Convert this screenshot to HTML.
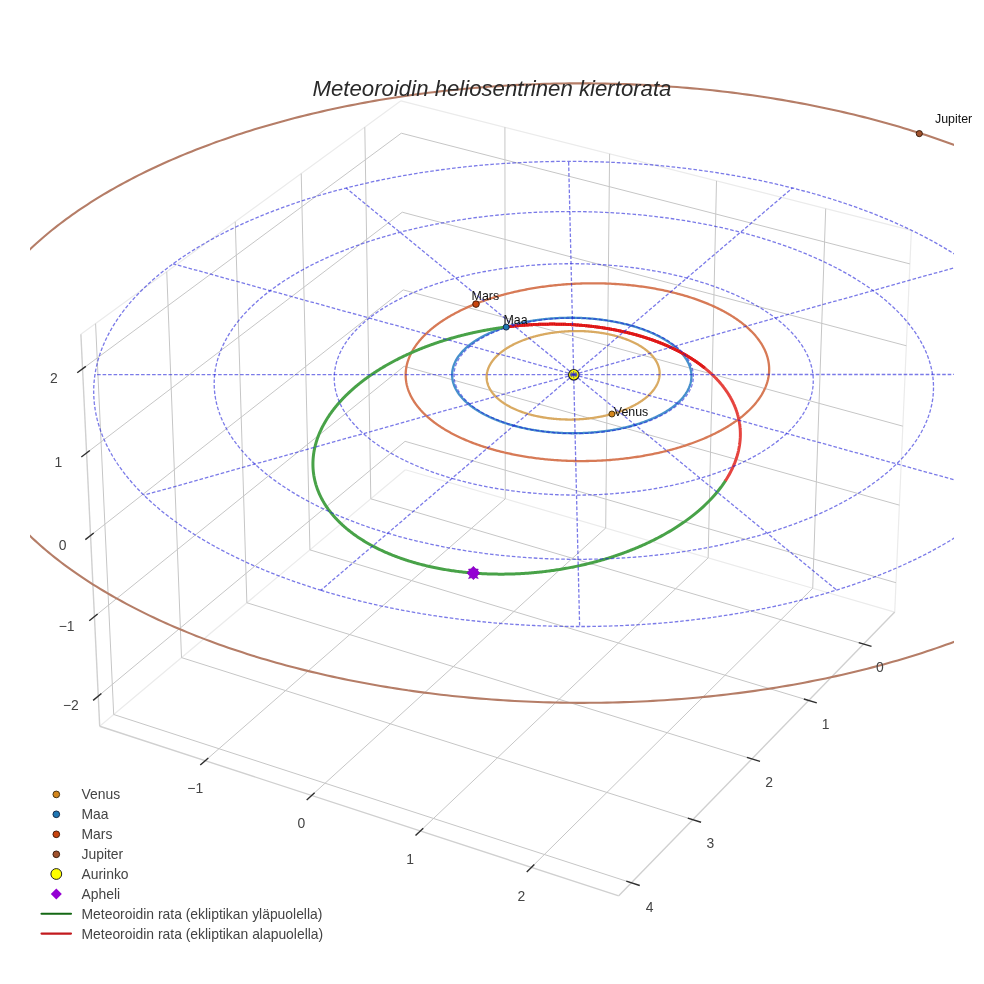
<!DOCTYPE html>
<html><head><meta charset="utf-8"><style>
html,body{margin:0;padding:0;background:#fff;}
body{width:984px;height:984px;overflow:hidden;font-family:"Liberation Sans",sans-serif;}
svg{position:absolute;left:0;top:0;will-change:transform;}
.g{stroke:#c6c6c6;stroke-width:1;fill:none}
.ef{stroke:#ebebeb;stroke-width:1.2;fill:none}
.em{stroke:#d0d0d0;stroke-width:1.4;fill:none}
.tk{stroke:#2e2e2e;stroke-width:1.4;fill:none}
.d{stroke:rgba(25,25,215,0.58);stroke-width:1.3;stroke-dasharray:3.6 1.9;fill:none}
.o{fill:none;stroke-width:2.3;stroke-linejoin:round}
.ven{stroke:#d9aa62}.ear{stroke:#4690cc}.mar{stroke:#d77a56}.jup{stroke:#b57d67;stroke-width:2.1}
.m{fill:none;stroke-width:3;stroke-linejoin:round}
.up{stroke:#48a248}.dn{stroke:#e6443f}
.mdot{fill:none;stroke:#ec1c1c;stroke-width:3;stroke-linejoin:round}
.mdot2{fill:none;stroke:#8a0808;stroke-width:2.4;stroke-dasharray:1 1.3;opacity:.35}
.tl{font-size:13.9px;fill:#444;text-anchor:middle;dominant-baseline:central}
.lg{font-size:13.9px;fill:#444;dominant-baseline:central}
.pl{font-size:12.4px;fill:#111}
</style></head>
<body>
<svg width="984" height="984" viewBox="0 0 984 984">
<defs><clipPath id="sc"><rect x="30" y="0" width="924" height="984"/></clipPath></defs>
<g clip-path="url(#sc)">
<line x1="894.72" y1="612.10" x2="911.38" y2="230.37" class="ef"/>
<line x1="400.92" y1="100.84" x2="911.38" y2="230.37" class="ef"/>
<line x1="400.92" y1="100.84" x2="80.89" y2="334.34" class="ef"/>
<line x1="405.41" y1="469.79" x2="99.71" y2="726.21" class="ef"/>
<line x1="405.41" y1="469.79" x2="894.72" y2="612.10" class="ef"/>
<line x1="370.80" y1="498.82" x2="863.60" y2="644.10" class="g"/>
<line x1="370.80" y1="498.82" x2="364.80" y2="127.19" class="g"/>
<line x1="309.93" y1="549.88" x2="808.78" y2="700.45" class="g"/>
<line x1="309.93" y1="549.88" x2="301.22" y2="173.59" class="g"/>
<line x1="246.87" y1="602.77" x2="751.90" y2="758.93" class="g"/>
<line x1="246.87" y1="602.77" x2="235.25" y2="221.72" class="g"/>
<line x1="181.50" y1="657.61" x2="692.82" y2="819.67" class="g"/>
<line x1="181.50" y1="657.61" x2="166.75" y2="271.70" class="g"/>
<line x1="113.69" y1="714.49" x2="631.42" y2="882.80" class="g"/>
<line x1="113.69" y1="714.49" x2="95.58" y2="323.63" class="g"/>
<line x1="505.26" y1="498.83" x2="205.25" y2="760.70" class="g"/>
<line x1="505.26" y1="498.83" x2="504.91" y2="127.23" class="g"/>
<line x1="605.69" y1="528.04" x2="311.60" y2="795.46" class="g"/>
<line x1="605.69" y1="528.04" x2="609.60" y2="153.80" class="g"/>
<line x1="708.16" y1="557.84" x2="420.30" y2="830.98" class="g"/>
<line x1="708.16" y1="557.84" x2="716.50" y2="180.92" class="g"/>
<line x1="812.72" y1="588.25" x2="531.44" y2="867.30" class="g"/>
<line x1="812.72" y1="588.25" x2="825.69" y2="208.63" class="g"/>
<line x1="405.07" y1="441.34" x2="98.26" y2="696.10" class="g"/>
<line x1="405.07" y1="441.34" x2="896.00" y2="582.72" class="g"/>
<line x1="404.15" y1="366.25" x2="94.44" y2="616.54" class="g"/>
<line x1="404.15" y1="366.25" x2="899.39" y2="505.14" class="g"/>
<line x1="403.22" y1="289.89" x2="90.55" y2="535.50" class="g"/>
<line x1="403.22" y1="289.89" x2="902.83" y2="426.16" class="g"/>
<line x1="402.27" y1="212.21" x2="86.59" y2="452.94" class="g"/>
<line x1="402.27" y1="212.21" x2="906.34" y2="345.77" class="g"/>
<line x1="401.31" y1="133.19" x2="82.55" y2="368.82" class="g"/>
<line x1="401.31" y1="133.19" x2="909.91" y2="263.91" class="g"/>
<line x1="99.71" y1="726.21" x2="80.89" y2="334.34" class="em"/>
<line x1="99.71" y1="726.21" x2="618.74" y2="895.83" class="em"/>
<line x1="894.72" y1="612.10" x2="618.74" y2="895.83" class="em"/>
<polyline points="657.41,363.59 657.24,363.23 657.06,362.86 656.88,362.49 656.69,362.13 656.49,361.76 656.29,361.40 656.08,361.04 655.86,360.68 655.64,360.32 655.41,359.96 655.18,359.60 654.94,359.24 654.69,358.89 654.44,358.53 654.18,358.18 653.92,357.83 653.65,357.48 653.37,357.13 653.09,356.78 652.80,356.44 652.51,356.09 652.21,355.75 651.90,355.41 651.59,355.07 651.28,354.73 650.95,354.39 650.62,354.06 650.29,353.73 649.95,353.39 649.61,353.06 649.25,352.73 648.90,352.41 648.53,352.08 648.17,351.76 647.79,351.44 647.41,351.12 647.03,350.80 646.64,350.48 646.24,350.17 645.84,349.86 645.44,349.55 645.03,349.24 644.61,348.93 644.19,348.63 643.76,348.32 643.33,348.02 642.89,347.72 642.45,347.43 642.00,347.13 641.55,346.84 641.09,346.55 640.63,346.26 640.16,345.98 639.69,345.69 639.21,345.41 638.73,345.13 638.24,344.85 637.75,344.58 637.25,344.31 636.75,344.04 636.24,343.77 635.73,343.50 635.22,343.24 634.70,342.98 634.17,342.72 633.64,342.46 633.11,342.21 632.57,341.96 632.03,341.71 631.49,341.47 630.94,341.22 630.38,340.98 629.82,340.74 629.26,340.51 628.69,340.27 628.12,340.04 627.54,339.81 626.97,339.59 626.38,339.37 625.79,339.15 625.20,338.93 624.61,338.71 624.01,338.50 623.41,338.29 622.80,338.08 622.19,337.88 621.58,337.68 620.96,337.48 620.34,337.28 619.72,337.09 619.09,336.90 618.46,336.71 617.83,336.53 617.19,336.35 616.55,336.17 615.91,335.99 615.26,335.82 614.61,335.65 613.96,335.48 613.30,335.32 612.64,335.16 611.98,335.00 611.32,334.85 610.65,334.69 609.98,334.54 609.31,334.40 608.63,334.25 607.95,334.11 607.27,333.98 606.59,333.84 605.91,333.71 605.22,333.58 604.53,333.46 603.84,333.34 603.14,333.22 602.44,333.10 601.74,332.99 601.04,332.88 600.34,332.77 599.64,332.67 598.93,332.57 598.22,332.47 597.51,332.38 596.79,332.29 596.08,332.20 595.36,332.12 594.65,332.03 593.93,331.96 593.21,331.88 592.48,331.81 591.76,331.74 591.03,331.68 590.31,331.61 589.58,331.56 588.85,331.50 588.12,331.45 587.39,331.40 586.66,331.35 585.92,331.31 585.19,331.27 584.45,331.23 583.72,331.20 582.98,331.17 582.24,331.15 581.50,331.12 580.76,331.10 580.02,331.09 579.28,331.07 578.54,331.06 577.80,331.05 577.06,331.05 576.32,331.05 575.58,331.05 574.83,331.06 574.09,331.07 573.35,331.08 572.60,331.10 571.86,331.12 571.12,331.14 570.38,331.16 569.63,331.19 568.89,331.23 568.15,331.26 567.41,331.30 566.67,331.34 565.93,331.39 565.19,331.43 564.45,331.49 563.71,331.54 562.97,331.60 562.23,331.66 561.49,331.73 560.76,331.79 560.02,331.86 559.29,331.94 558.55,332.02 557.82,332.10 557.09,332.18 556.36,332.27 555.63,332.36 554.90,332.45 554.17,332.55 553.45,332.65 552.73,332.75 552.00,332.86 551.28,332.97 550.56,333.08 549.84,333.19 549.13,333.31 548.41,333.43 547.70,333.56 546.99,333.69 546.28,333.82 545.57,333.95 544.87,334.09 544.17,334.23 543.47,334.37 542.77,334.52 542.07,334.67 541.38,334.82 540.68,334.98 539.99,335.14 539.31,335.30 538.62,335.46 537.94,335.63 537.26,335.80 536.58,335.97 535.91,336.15 535.24,336.33 534.57,336.51 533.90,336.70 533.24,336.88 532.58,337.07 531.92,337.27 531.26,337.46 530.61,337.66 529.96,337.87 529.32,338.07 528.67,338.28 528.04,338.49 527.40,338.70 526.77,338.92 526.14,339.14 525.51,339.36 524.89,339.58 524.27,339.81 523.66,340.04 523.05,340.27 522.44,340.51 521.83,340.75 521.23,340.99 520.64,341.23 520.04,341.48 519.46,341.72 518.87,341.97 518.29,342.23 517.71,342.48 517.14,342.74 516.57,343.00 516.01,343.26 515.45,343.53 514.89,343.80 514.34,344.07 513.79,344.34 513.25,344.62 512.71,344.89 512.18,345.17 511.65,345.45 511.12,345.74 510.60,346.03 510.09,346.31 509.57,346.60 509.07,346.90 508.57,347.19 508.07,347.49 507.58,347.79 507.09,348.09 506.61,348.40 506.13,348.70 505.66,349.01 505.19,349.32 504.73,349.63 504.27,349.95 503.82,350.26 503.37,350.58 502.93,350.90 502.49,351.22 502.06,351.55 501.64,351.87 501.22,352.20 500.80,352.53 500.39,352.86 499.99,353.19 499.59,353.52 499.19,353.86 498.81,354.20 498.42,354.54 498.05,354.88 497.68,355.22 497.31,355.56 496.95,355.91 496.60,356.26 496.25,356.61 495.91,356.96 495.57,357.31 495.24,357.66 494.91,358.01 494.60,358.37 494.28,358.73 493.98,359.09 493.67,359.45 493.38,359.81 493.09,360.17 492.81,360.53 492.53,360.90 492.26,361.26 491.99,361.63 491.74,362.00 491.48,362.37 491.24,362.74 491.00,363.11 490.76,363.48 490.54,363.85 490.31,364.23 490.10,364.60 489.89,364.98 489.69,365.35 489.49,365.73 489.30,366.11 489.12,366.49 488.94,366.87 488.77,367.25 488.61,367.63 488.45,368.01 488.30,368.39 488.16,368.77 488.02,369.16 487.89,369.54 487.76,369.93 487.64,370.31 487.53,370.70 487.42,371.08 487.33,371.47 487.23,371.86 487.15,372.24 487.07,372.63 487.00,373.02 486.93,373.40 486.87,373.79 486.82,374.18 486.77,374.57 486.73,374.96 486.70,375.34 486.67,375.73 486.65,376.12 486.64,376.51 486.64,376.90 486.64,377.29 486.64,377.67 486.66,378.06 486.68,378.45 486.71,378.84 486.74,379.23 486.78,379.61 486.83,380.00 486.88,380.39 486.94,380.77 487.01,381.16 487.08,381.54 487.16,381.93 487.25,382.31 487.35,382.70 487.45,383.08 487.55,383.46 487.67,383.85 487.79,384.23 487.92,384.61 488.05,384.99 488.19,385.37 488.34,385.75 488.49,386.13 488.65,386.50 488.82,386.88 488.99,387.26 489.17,387.63 489.36,388.01 489.55,388.38 489.75,388.75 489.96,389.12 490.17,389.49 490.39,389.86 490.61,390.23 490.85,390.60 491.08,390.96 491.33,391.33 491.58,391.69 491.84,392.05 492.10,392.41 492.37,392.77 492.65,393.13 492.93,393.49 493.22,393.84 493.52,394.20 493.82,394.55 494.13,394.90 494.44,395.25 494.76,395.60 495.09,395.95 495.42,396.29 495.76,396.63 496.10,396.98 496.46,397.32 496.81,397.65 497.18,397.99 497.54,398.33 497.92,398.66 498.30,398.99 498.69,399.32 499.08,399.65 499.48,399.97 499.88,400.30 500.29,400.62 500.71,400.94 501.13,401.26 501.56,401.57 501.99,401.89 502.43,402.20 502.87,402.51 503.32,402.82 503.78,403.12 504.24,403.43 504.70,403.73 505.17,404.03 505.65,404.32 506.13,404.62 506.62,404.91 507.11,405.20 507.61,405.49 508.11,405.77 508.62,406.06 509.13,406.34 509.65,406.62 510.18,406.89 510.70,407.17 511.24,407.44 511.78,407.70 512.32,407.97 512.87,408.23 513.42,408.49 513.98,408.75 514.54,409.01 515.11,409.26 515.68,409.51 516.25,409.76 516.83,410.00 517.42,410.25 518.01,410.48 518.60,410.72 519.20,410.95 519.80,411.19 520.41,411.41 521.02,411.64 521.63,411.86 522.25,412.08 522.87,412.30 523.50,412.51 524.13,412.72 524.77,412.93 525.40,413.14 526.05,413.34 526.69,413.54 527.34,413.73 528.00,413.93 528.65,414.12 529.31,414.30 529.98,414.49 530.64,414.67 531.31,414.84 531.99,415.02 532.66,415.19 533.35,415.36 534.03,415.52 534.72,415.69 535.41,415.84 536.10,416.00 536.79,416.15 537.49,416.30 538.19,416.45 538.90,416.59 539.60,416.73 540.31,416.87 541.03,417.00 541.74,417.13 542.46,417.25 543.18,417.38 543.90,417.50 544.62,417.61 545.35,417.73 546.08,417.84 546.81,417.94 547.54,418.04 548.27,418.14 549.01,418.24 549.75,418.33 550.49,418.42 551.23,418.51 551.98,418.59 552.72,418.67 553.47,418.75 554.22,418.82 554.97,418.89 555.72,418.95 556.47,419.01 557.23,419.07 557.98,419.13 558.74,419.18 559.50,419.23 560.25,419.27 561.01,419.31 561.77,419.35 562.54,419.39 563.30,419.42 564.06,419.44 564.83,419.47 565.59,419.49 566.35,419.51 567.12,419.52 567.89,419.53 568.65,419.53 569.42,419.54 570.19,419.54 570.95,419.53 571.72,419.53 572.49,419.52 573.25,419.50 574.02,419.48 574.79,419.46 575.56,419.44 576.32,419.41 577.09,419.38 577.86,419.34 578.62,419.30 579.39,419.26 580.15,419.21 580.91,419.17 581.68,419.11 582.44,419.06 583.20,419.00 583.96,418.94 584.72,418.87 585.48,418.80 586.24,418.73 587.00,418.65 587.75,418.57 588.51,418.49 589.26,418.40 590.01,418.31 590.76,418.22 591.51,418.12 592.26,418.02 593.01,417.92 593.75,417.81 594.49,417.70 595.24,417.59 595.98,417.47 596.71,417.35 597.45,417.23 598.18,417.10 598.91,416.97 599.64,416.84 600.37,416.70 601.10,416.56 601.82,416.42 602.54,416.27 603.26,416.12 603.97,415.97 604.69,415.82 605.40,415.66 606.11,415.50 606.81,415.33 607.51,415.16 608.21,414.99 608.91,414.82 609.61,414.64 610.30,414.46 610.99,414.28 611.67,414.09 612.35,413.90 613.03,413.71 613.71,413.51 614.38,413.31 615.05,413.11 615.72,412.91 616.38,412.70 617.04,412.49 617.69,412.28 618.35,412.06 619.00,411.85 619.64,411.62 620.28,411.40 620.92,411.17 621.55,410.94 622.18,410.71 622.81,410.48 623.43,410.24 624.05,410.00 624.66,409.76 625.27,409.51 625.88,409.26 626.48,409.01 627.08,408.76 627.67,408.50 628.26,408.24 628.85,407.98 629.43,407.72 630.00,407.45 630.57,407.18 631.14,406.91 631.70,406.64 632.26,406.36 632.81,406.08 633.36,405.80 633.91,405.52 634.44,405.24 634.98,404.95 635.51,404.66 636.03,404.37 636.55,404.07 637.07,403.78 637.58,403.48 638.08,403.18 638.58,402.87 639.07,402.57 639.56,402.26 640.05,401.95 640.52,401.64 641.00,401.33 641.47,401.01 641.93,400.70 642.39,400.38 642.84,400.06 643.28,399.74 643.73,399.41 644.16,399.09 644.59,398.76 645.02,398.43 645.43,398.10 645.85,397.76 646.26,397.43 646.66,397.09 647.05,396.76 647.44,396.42 647.83,396.08 648.21,395.73 648.58,395.39 648.95,395.04 649.31,394.70 649.67,394.35 650.02,394.00 650.36,393.65 650.70,393.29 651.03,392.94 651.36,392.58 651.68,392.23 651.99,391.87 652.30,391.51 652.60,391.15 652.89,390.79 653.18,390.43 653.47,390.06 653.74,389.70 654.02,389.33 654.28,388.97 654.54,388.60 654.79,388.23 655.04,387.86 655.28,387.49 655.51,387.12 655.74,386.75 655.96,386.37 656.17,386.00 656.38,385.63 656.58,385.25 656.78,384.87 656.97,384.50 657.15,384.12 657.33,383.74 657.50,383.36 657.66,382.98 657.82,382.61 657.97,382.23 658.11,381.84 658.25,381.46 658.38,381.08 658.51,380.70 658.63,380.32 658.74,379.94 658.84,379.55 658.94,379.17 659.03,378.79 659.12,378.40 659.20,378.02 659.27,377.64 659.34,377.25 659.40,376.87 659.45,376.48 659.50,376.10 659.54,375.72 659.57,375.33 659.60,374.95 659.62,374.56 659.64,374.18 659.64,373.80 659.64,373.41 659.64,373.03 659.63,372.65 659.61,372.26 659.58,371.88 659.55,371.50 659.52,371.12 659.47,370.74 659.42,370.36 659.36,369.97 659.30,369.59 659.23,369.21 659.15,368.84 659.07,368.46 658.98,368.08 658.89,367.70 658.78,367.32 658.67,366.95 658.56,366.57 658.44,366.20 658.31,365.82 658.18,365.45 658.04,365.08 657.89,364.70 657.74,364.33 657.58,363.96 657.41,363.59" class="o ven"/>
<polyline points="687.22,391.29 687.48,390.81 687.74,390.33 687.99,389.85 688.24,389.37 688.47,388.88 688.69,388.40 688.91,387.91 689.12,387.43 689.31,386.94 689.50,386.45 689.68,385.96 689.86,385.47 690.02,384.98 690.17,384.49 690.32,384.00 690.45,383.51 690.58,383.02 690.70,382.52 690.81,382.03 690.91,381.53 691.01,381.04 691.09,380.55 691.16,380.05 691.23,379.56 691.29,379.06 691.34,378.56 691.37,378.07 691.41,377.57 691.43,377.08 691.44,376.58 691.44,376.09 691.44,375.59 691.43,375.09 691.40,374.60 691.37,374.10 691.33,373.61 691.28,373.11 691.23,372.62 691.16,372.12 691.08,371.63 691.00,371.13 690.91,370.64 690.81,370.15 690.70,369.65 690.58,369.16 690.45,368.67 690.31,368.18 690.17,367.69 690.01,367.20 689.85,366.71 689.68,366.22 689.50,365.73 689.31,365.24 689.12,364.76 688.91,364.27 688.70,363.79 688.47,363.30 688.24,362.82 688.00,362.34 687.75,361.86 687.50,361.38 687.23,360.90 686.96,360.42 686.68,359.94 686.39,359.47 686.09,358.99 685.78,358.52 685.47,358.05 685.14,357.58 684.81,357.11 684.47,356.64 684.12,356.18 683.77,355.71 683.40,355.25 683.03,354.79 682.65,354.33 682.26,353.87 681.86,353.41 681.46,352.96 681.04,352.50 680.62,352.05 680.19,351.60 679.76,351.15 679.31,350.71 678.86,350.26 678.40,349.82 677.93,349.38 677.46,348.94 676.97,348.50 676.48,348.07 675.98,347.64 675.48,347.21 674.96,346.78 674.44,346.35 673.91,345.93 673.38,345.50 672.83,345.08 672.28,344.66 671.73,344.25 671.16,343.84 670.59,343.42 670.01,343.02 669.42,342.61 668.83,342.21 668.23,341.80 667.62,341.40 667.00,341.01 666.38,340.61 665.75,340.22 665.12,339.83 664.48,339.45 663.83,339.06 663.17,338.68 662.51,338.30 661.84,337.93 661.16,337.56 660.48,337.19 659.79,336.82 659.10,336.45 658.40,336.09 657.69,335.73 656.98,335.38 656.26,335.03 655.53,334.68 654.80,334.33 654.06,333.98 653.31,333.64 652.56,333.31 651.81,332.97 651.05,332.64 650.28,332.31 649.51,331.98 648.73,331.66 647.94,331.34 647.15,331.03 646.36,330.71 645.55,330.40 644.75,330.10 643.94,329.80 643.12,329.50 642.30,329.20 641.47,328.91 640.64,328.62 639.80,328.33 638.95,328.05 638.11,327.77 637.25,327.49 636.40,327.22 635.54,326.95 634.67,326.69 633.80,326.42 632.92,326.17 632.04,325.91 631.16,325.66 630.27,325.41 629.37,325.17 628.48,324.93 627.57,324.69 626.67,324.46 625.76,324.23 624.84,324.01 623.93,323.78 623.00,323.57 622.08,323.35 621.15,323.14 620.21,322.94 619.28,322.73 618.34,322.54 617.39,322.34 616.45,322.15 615.50,321.96 614.54,321.78 613.59,321.60 612.63,321.42 611.66,321.25 610.70,321.08 609.73,320.92 608.76,320.76 607.78,320.61 606.80,320.45 605.82,320.31 604.84,320.16 603.86,320.02 602.87,319.89 601.88,319.76 600.89,319.63 599.89,319.51 598.89,319.39 597.90,319.27 596.89,319.16 595.89,319.05 594.89,318.95 593.88,318.85 592.87,318.76 591.86,318.67 590.85,318.58 589.84,318.50 588.82,318.42 587.81,318.35 586.79,318.28 585.77,318.21 584.75,318.15 583.73,318.10 582.71,318.04 581.69,318.00 580.67,317.95 579.64,317.91 578.62,317.88 577.59,317.84 576.57,317.82 575.54,317.79 574.51,317.77 573.49,317.76 572.46,317.75 571.43,317.74 570.40,317.74 569.37,317.74 568.35,317.75 567.32,317.76 566.29,317.78 565.26,317.80 564.24,317.82 563.21,317.85 562.18,317.88 561.16,317.92 560.13,317.96 559.11,318.00 558.09,318.05 557.06,318.11 556.04,318.17 555.02,318.23 554.00,318.29 552.98,318.37 551.97,318.44 550.95,318.52 549.94,318.60 548.92,318.69 547.91,318.78 546.90,318.88 545.89,318.98 544.89,319.08 543.88,319.19 542.88,319.31 541.88,319.42 540.88,319.54 539.89,319.67 538.89,319.80 537.90,319.93 536.91,320.07 535.92,320.21 534.94,320.36 533.96,320.51 532.98,320.67 532.00,320.82 531.03,320.99 530.05,321.15 529.09,321.33 528.12,321.50 527.16,321.68 526.20,321.86 525.24,322.05 524.29,322.24 523.34,322.44 522.40,322.64 521.46,322.84 520.52,323.05 519.58,323.26 518.65,323.47 517.72,323.69 516.80,323.92 515.88,324.14 514.97,324.38 514.06,324.61 513.15,324.85 512.25,325.09 511.35,325.34 510.45,325.59 509.56,325.84 508.68,326.10 507.80,326.36 506.92,326.63 506.05,326.90 505.18,327.17 504.32,327.45 503.47,327.73 502.62,328.01 501.77,328.30 500.93,328.59 500.09,328.88 499.26,329.18 498.43,329.48 497.61,329.79 496.80,330.10 495.99,330.41 495.19,330.73 494.39,331.05 493.60,331.37 492.81,331.70 492.03,332.03 491.26,332.36 490.49,332.70 489.72,333.04 488.97,333.38 488.22,333.73 487.47,334.07 486.73,334.43 486.00,334.78 485.28,335.14 484.56,335.51 483.85,335.87 483.14,336.24 482.44,336.61 481.75,336.99 481.06,337.36 480.38,337.74 479.71,338.13 479.05,338.51 478.39,338.90 477.74,339.30 477.09,339.69 476.46,340.09 475.83,340.49 475.21,340.89 474.59,341.30 473.98,341.71 473.38,342.12 472.79,342.53 472.20,342.95 471.63,343.37 471.05,343.79 470.49,344.22 469.94,344.64 469.39,345.07 468.85,345.51 468.32,345.94 467.79,346.38 467.28,346.82 466.77,347.26 466.27,347.70 465.78,348.15 465.29,348.59 464.82,349.04 464.35,349.50 463.89,349.95 463.44,350.41 463.00,350.87 462.56,351.33 462.14,351.79 461.72,352.25 461.31,352.72 460.91,353.19 460.52,353.66 460.13,354.13 459.76,354.60 459.39,355.08 459.03,355.55 458.69,356.03 458.35,356.51 458.01,356.99 457.69,357.48 457.38,357.96 457.07,358.45 456.78,358.93 456.49,359.42 456.21,359.91 455.94,360.41 455.68,360.90 455.43,361.39 455.19,361.89 454.95,362.38 454.73,362.88 454.51,363.38 454.31,363.88 454.11,364.38 453.92,364.88 453.74,365.38 453.57,365.89 453.41,366.39 453.26,366.89 453.12,367.40 452.99,367.91 452.87,368.41 452.75,368.92 452.65,369.43 452.55,369.94 452.47,370.45 452.39,370.96 452.32,371.47 452.26,371.98 452.22,372.49 452.18,373.00 452.15,373.51 452.13,374.02 452.12,374.53 452.11,375.05 452.12,375.56 452.14,376.07 452.17,376.58 452.20,377.09 452.25,377.61 452.30,378.12 452.37,378.63 452.44,379.14 452.52,379.65 452.62,380.17 452.72,380.68 452.83,381.19 452.95,381.70 453.08,382.21 453.22,382.72 453.37,383.22 453.53,383.73 453.70,384.24 453.87,384.75 454.06,385.25 454.26,385.76 454.46,386.26 454.68,386.77 454.90,387.27 455.13,387.77 455.37,388.28 455.63,388.78 455.89,389.28 456.16,389.77 456.44,390.27 456.72,390.77 457.02,391.26 457.33,391.76 457.64,392.25 457.97,392.74 458.30,393.23 458.64,393.72 459.00,394.21 459.36,394.69 459.73,395.18 460.11,395.66 460.49,396.14 460.89,396.62 461.29,397.10 461.71,397.57 462.13,398.05 462.56,398.52 463.00,398.99 463.45,399.46 463.91,399.93 464.38,400.39 464.85,400.86 465.33,401.32 465.82,401.78 466.32,402.24 466.83,402.69 467.35,403.14 467.88,403.60 468.41,404.04 468.95,404.49 469.50,404.94 470.06,405.38 470.63,405.82 471.20,406.25 471.78,406.69 472.37,407.12 472.97,407.55 473.58,407.98 474.19,408.40 474.81,408.82 475.44,409.24 476.08,409.66 476.73,410.07 477.38,410.49 478.04,410.89 478.71,411.30 479.38,411.70 480.06,412.10 480.75,412.50 481.45,412.89 482.15,413.29 482.87,413.67 483.58,414.06 484.31,414.44 485.04,414.82 485.78,415.20 486.53,415.57 487.28,415.94 488.04,416.30 488.81,416.67 489.58,417.03 490.36,417.38 491.14,417.74 491.94,418.09 492.74,418.43 493.54,418.77 494.35,419.11 495.17,419.45 495.99,419.78 496.82,420.11 497.66,420.44 498.50,420.76 499.35,421.08 500.20,421.39 501.06,421.70 501.92,422.01 502.79,422.31 503.67,422.61 504.55,422.91 505.44,423.20 506.33,423.49 507.22,423.77 508.12,424.05 509.03,424.33 509.94,424.60 510.86,424.87 511.78,425.14 512.71,425.40 513.64,425.65 514.57,425.91 515.51,426.16 516.46,426.40 517.40,426.64 518.36,426.88 519.31,427.11 520.27,427.34 521.24,427.57 522.21,427.79 523.18,428.00 524.16,428.21 525.14,428.42 526.12,428.62 527.11,428.82 528.10,429.02 529.09,429.21 530.09,429.40 531.09,429.58 532.10,429.76 533.10,429.93 534.11,430.10 535.13,430.26 536.14,430.42 537.16,430.58 538.18,430.73 539.21,430.88 540.23,431.02 541.26,431.16 542.29,431.30 543.33,431.43 544.36,431.55 545.40,431.67 546.44,431.79 547.48,431.90 548.52,432.01 549.57,432.11 550.61,432.21 551.66,432.30 552.71,432.39 553.76,432.48 554.81,432.56 555.87,432.63 556.92,432.70 557.98,432.77 559.03,432.83 560.09,432.89 561.15,432.95 562.21,432.99 563.27,433.04 564.33,433.08 565.39,433.11 566.45,433.14 567.51,433.17 568.57,433.19 569.63,433.21 570.70,433.22 571.76,433.23 572.82,433.23 573.88,433.23 574.94,433.22 576.00,433.21 577.06,433.20 578.12,433.18 579.18,433.16 580.24,433.13 581.29,433.09 582.35,433.06 583.40,433.01 584.46,432.97 585.51,432.92 586.56,432.86 587.61,432.80 588.66,432.74 589.71,432.67 590.76,432.59 591.80,432.52 592.84,432.43 593.88,432.35 594.92,432.26 595.96,432.16 596.99,432.06 598.03,431.96 599.06,431.85 600.09,431.73 601.11,431.62 602.13,431.50 603.16,431.37 604.17,431.24 605.19,431.10 606.20,430.96 607.21,430.82 608.22,430.67 609.22,430.52 610.22,430.36 611.22,430.20 612.22,430.04 613.21,429.87 614.19,429.70 615.18,429.52 616.16,429.34 617.14,429.15 618.11,428.96 619.08,428.77 620.04,428.57 621.01,428.37 621.96,428.16 622.92,427.95 623.87,427.74 624.81,427.52 625.75,427.30 626.69,427.07 627.62,426.84 628.55,426.61 629.47,426.37 630.39,426.13 631.31,425.88 632.22,425.63 633.12,425.38 634.02,425.12 634.91,424.86 635.80,424.60 636.69,424.33 637.57,424.06 638.44,423.78 639.31,423.50 640.17,423.22 641.03,422.93 641.88,422.64 642.73,422.35 643.57,422.05 644.41,421.75 645.24,421.45 646.06,421.14 646.88,420.83 647.69,420.51 648.50,420.19 649.30,419.87 650.09,419.55 650.88,419.22 651.66,418.89 652.44,418.55 653.21,418.22 653.97,417.88 654.73,417.53 655.48,417.18 656.22,416.83 656.96,416.48 657.69,416.12 658.41,415.76 659.13,415.40 659.84,415.04 660.54,414.67 661.24,414.30 661.93,413.92 662.61,413.55 663.29,413.17 663.96,412.78 664.62,412.40 665.27,412.01 665.92,411.62 666.56,411.22 667.19,410.83 667.81,410.43 668.43,410.03 669.04,409.62 669.64,409.22 670.24,408.81 670.83,408.40 671.41,407.98 671.98,407.57 672.54,407.15 673.10,406.73 673.65,406.31 674.19,405.88 674.73,405.45 675.25,405.02 675.77,404.59 676.28,404.16 676.78,403.72 677.27,403.28 677.76,402.84 678.24,402.40 678.71,401.96 679.17,401.51 679.62,401.07 680.07,400.62 680.51,400.16 680.93,399.71 681.35,399.26 681.77,398.80 682.17,398.34 682.57,397.88 682.95,397.42 683.33,396.96 683.70,396.49 684.06,396.03 684.42,395.56 684.76,395.09 685.10,394.62 685.43,394.15 685.75,393.68 686.06,393.20 686.36,392.73 686.65,392.25 686.94,391.77 687.22,391.29" class="o ear"/>
<polyline points="438.96,425.73 439.82,426.30 440.68,426.87 441.55,427.43 442.44,427.99 443.33,428.55 444.23,429.11 445.14,429.66 446.06,430.21 446.99,430.75 447.93,431.29 448.88,431.83 449.84,432.36 450.81,432.89 451.79,433.41 452.78,433.93 453.77,434.45 454.78,434.96 455.79,435.47 456.81,435.98 457.85,436.48 458.89,436.98 459.94,437.47 461.00,437.96 462.06,438.44 463.14,438.92 464.22,439.40 465.32,439.87 466.42,440.34 467.53,440.80 468.65,441.26 469.78,441.71 470.91,442.16 472.05,442.61 473.21,443.05 474.36,443.48 475.53,443.92 476.71,444.34 477.89,444.76 479.08,445.18 480.28,445.59 481.49,446.00 482.70,446.41 483.92,446.80 485.15,447.20 486.39,447.59 487.63,447.97 488.88,448.35 490.14,448.72 491.41,449.09 492.68,449.46 493.96,449.81 495.25,450.17 496.54,450.52 497.84,450.86 499.15,451.20 500.46,451.53 501.78,451.86 503.11,452.18 504.44,452.50 505.78,452.81 507.12,453.12 508.48,453.42 509.83,453.71 511.20,454.00 512.57,454.29 513.94,454.57 515.32,454.84 516.71,455.11 518.10,455.37 519.50,455.63 520.91,455.88 522.31,456.12 523.73,456.36 525.15,456.60 526.57,456.83 528.00,457.05 529.44,457.27 530.87,457.48 532.32,457.68 533.77,457.88 535.22,458.08 536.68,458.27 538.14,458.45 539.61,458.62 541.08,458.79 542.55,458.96 544.03,459.11 545.51,459.27 547.00,459.41 548.49,459.55 549.98,459.69 551.48,459.81 552.98,459.94 554.48,460.05 555.99,460.16 557.50,460.26 559.02,460.36 560.53,460.45 562.05,460.54 563.57,460.61 565.10,460.69 566.63,460.75 568.16,460.81 569.69,460.86 571.22,460.91 572.76,460.95 574.30,460.98 575.84,461.01 577.38,461.03 578.93,461.05 580.47,461.06 582.02,461.06 583.57,461.05 585.12,461.04 586.67,461.02 588.22,461.00 589.77,460.97 591.33,460.93 592.88,460.89 594.44,460.84 595.99,460.78 597.55,460.72 599.11,460.65 600.66,460.57 602.22,460.49 603.78,460.40 605.34,460.30 606.89,460.20 608.45,460.09 610.00,459.98 611.56,459.85 613.11,459.72 614.67,459.59 616.22,459.45 617.77,459.30 619.32,459.14 620.87,458.98 622.42,458.81 623.96,458.63 625.51,458.45 627.05,458.26 628.59,458.07 630.13,457.87 631.66,457.66 633.20,457.44 634.73,457.22 636.26,456.99 637.78,456.76 639.31,456.51 640.83,456.27 642.35,456.01 643.86,455.75 645.37,455.48 646.88,455.21 648.38,454.93 649.88,454.64 651.38,454.34 652.87,454.04 654.36,453.73 655.85,453.42 657.33,453.10 658.80,452.77 660.28,452.44 661.74,452.10 663.20,451.75 664.66,451.40 666.11,451.04 667.56,450.67 669.00,450.30 670.44,449.92 671.87,449.54 673.29,449.15 674.71,448.75 676.13,448.34 677.53,447.93 678.93,447.52 680.33,447.09 681.72,446.66 683.10,446.23 684.47,445.79 685.84,445.34 687.20,444.89 688.56,444.43 689.91,443.96 691.25,443.49 692.58,443.01 693.90,442.53 695.22,442.04 696.53,441.54 697.83,441.04 699.12,440.53 700.41,440.02 701.69,439.50 702.95,438.97 704.21,438.44 705.46,437.90 706.71,437.36 707.94,436.81 709.16,436.26 710.38,435.70 711.59,435.13 712.78,434.56 713.97,433.99 715.15,433.41 716.31,432.82 717.47,432.23 718.62,431.63 719.76,431.03 720.88,430.42 722.00,429.81 723.11,429.19 724.20,428.56 725.29,427.94 726.36,427.30 727.42,426.66 728.48,426.02 729.52,425.37 730.55,424.72 731.57,424.06 732.57,423.40 733.57,422.73 734.55,422.06 735.52,421.38 736.48,420.70 737.43,420.02 738.37,419.33 739.29,418.63 740.20,417.93 741.10,417.23 741.99,416.53 742.86,415.81 743.72,415.10 744.57,414.38 745.41,413.66 746.23,412.93 747.04,412.20 747.83,411.46 748.61,410.73 749.38,409.98 750.14,409.24 750.88,408.49 751.61,407.74 752.32,406.98 753.03,406.22 753.71,405.46 754.39,404.69 755.04,403.92 755.69,403.15 756.32,402.38 756.94,401.60 757.54,400.82 758.13,400.04 758.70,399.25 759.26,398.46 759.80,397.67 760.33,396.87 760.84,396.08 761.34,395.28 761.83,394.48 762.30,393.67 762.75,392.87 763.19,392.06 763.61,391.25 764.02,390.44 764.42,389.62 764.79,388.81 765.16,387.99 765.50,387.17 765.84,386.35 766.15,385.53 766.45,384.70 766.74,383.88 767.01,383.05 767.26,382.23 767.50,381.40 767.72,380.57 767.93,379.74 768.12,378.90 768.29,378.07 768.45,377.24 768.60,376.41 768.72,375.57 768.83,374.74 768.93,373.90 769.01,373.06 769.07,372.23 769.12,371.39 769.15,370.56 769.16,369.72 769.16,368.88 769.14,368.05 769.11,367.21 769.06,366.37 768.99,365.54 768.91,364.70 768.81,363.87 768.70,363.04 768.57,362.20 768.42,361.37 768.26,360.54 768.08,359.71 767.88,358.88 767.67,358.05 767.45,357.22 767.20,356.40 766.94,355.57 766.67,354.75 766.38,353.93 766.07,353.10 765.75,352.29 765.41,351.47 765.05,350.65 764.68,349.84 764.29,349.03 763.89,348.22 763.47,347.41 763.04,346.61 762.59,345.80 762.12,345.00 761.64,344.20 761.14,343.41 760.63,342.61 760.10,341.82 759.56,341.04 759.00,340.25 758.43,339.47 757.84,338.69 757.23,337.91 756.62,337.14 755.98,336.37 755.33,335.60 754.67,334.84 753.99,334.08 753.29,333.32 752.58,332.57 751.86,331.82 751.12,331.07 750.37,330.33 749.60,329.59 748.82,328.86 748.02,328.13 747.21,327.40 746.39,326.68 745.55,325.96 744.70,325.25 743.83,324.54 742.95,323.83 742.06,323.13 741.15,322.43 740.23,321.74 739.30,321.06 738.35,320.37 737.39,319.69 736.42,319.02 735.43,318.35 734.43,317.69 733.42,317.03 732.39,316.38 731.35,315.73 730.30,315.09 729.24,314.45 728.17,313.82 727.08,313.19 725.98,312.57 724.87,311.95 723.75,311.34 722.61,310.73 721.47,310.13 720.31,309.54 719.14,308.95 717.96,308.37 716.77,307.79 715.56,307.22 714.35,306.65 713.13,306.09 711.89,305.54 710.65,304.99 709.39,304.45 708.13,303.92 706.85,303.39 705.56,302.86 704.27,302.35 702.96,301.84 701.65,301.33 700.32,300.83 698.99,300.34 697.65,299.86 696.29,299.38 694.93,298.91 693.56,298.44 692.18,297.98 690.80,297.53 689.40,297.09 688.00,296.65 686.59,296.22 685.17,295.79 683.74,295.37 682.30,294.96 680.86,294.56 679.41,294.16 677.96,293.77 676.49,293.38 675.02,293.00 673.54,292.63 672.06,292.27 670.57,291.91 669.07,291.57 667.56,291.22 666.05,290.89 664.54,290.56 663.02,290.24 661.49,289.93 659.96,289.62 658.42,289.32 656.87,289.03 655.33,288.74 653.77,288.46 652.21,288.19 650.65,287.93 649.08,287.67 647.51,287.43 645.94,287.18 644.36,286.95 642.77,286.72 641.19,286.50 639.59,286.29 638.00,286.09 636.40,285.89 634.80,285.70 633.20,285.51 631.59,285.34 629.98,285.17 628.37,285.01 626.75,284.85 625.14,284.71 623.52,284.57 621.90,284.44 620.27,284.31 618.65,284.20 617.02,284.09 615.40,283.98 613.77,283.89 612.14,283.80 610.50,283.72 608.87,283.65 607.24,283.58 605.61,283.52 603.97,283.47 602.34,283.43 600.70,283.39 599.07,283.36 597.44,283.34 595.80,283.32 594.17,283.31 592.54,283.31 590.90,283.32 589.27,283.33 587.64,283.35 586.01,283.38 584.38,283.41 582.76,283.46 581.13,283.51 579.51,283.56 577.88,283.62 576.26,283.69 574.65,283.77 573.03,283.86 571.41,283.95 569.80,284.05 568.19,284.15 566.59,284.26 564.98,284.38 563.38,284.51 561.78,284.64 560.19,284.78 558.60,284.92 557.01,285.08 555.42,285.24 553.84,285.40 552.27,285.57 550.69,285.75 549.12,285.94 547.56,286.13 545.99,286.33 544.44,286.54 542.88,286.75 541.34,286.97 539.79,287.19 538.25,287.42 536.72,287.66 535.19,287.91 533.67,288.16 532.15,288.41 530.63,288.68 529.13,288.95 527.62,289.22 526.13,289.50 524.63,289.79 523.15,290.08 521.67,290.38 520.20,290.69 518.73,291.00 517.27,291.32 515.81,291.64 514.36,291.97 512.92,292.31 511.49,292.65 510.06,293.00 508.64,293.35 507.22,293.71 505.81,294.07 504.41,294.44 503.02,294.81 501.63,295.19 500.25,295.58 498.88,295.97 497.52,296.37 496.16,296.77 494.81,297.18 493.47,297.59 492.13,298.01 490.81,298.43 489.49,298.86 488.18,299.29 486.88,299.73 485.59,300.17 484.30,300.62 483.03,301.08 481.76,301.53 480.50,302.00 479.25,302.47 478.01,302.94 476.77,303.42 475.55,303.90 474.33,304.38 473.13,304.88 471.93,305.37 470.74,305.87 469.56,306.38 468.39,306.89 467.23,307.40 466.08,307.92 464.94,308.44 463.81,308.97 462.68,309.50 461.57,310.03 460.47,310.57 459.37,311.11 458.29,311.66 457.22,312.21 456.15,312.77 455.10,313.32 454.05,313.89 453.02,314.45 452.00,315.02 450.98,315.60 449.98,316.17 448.99,316.76 448.00,317.34 447.03,317.93 446.07,318.52 445.12,319.12 444.18,319.71 443.25,320.32 442.33,320.92 441.42,321.53 440.52,322.14 439.63,322.75 438.75,323.37 437.89,323.99 437.03,324.62 436.19,325.24 435.35,325.87 434.53,326.50 433.72,327.14 432.92,327.78 432.13,328.42 431.35,329.06 430.58,329.71 429.83,330.36 429.08,331.01 428.35,331.66 427.63,332.32 426.91,332.98 426.21,333.64 425.53,334.30 424.85,334.96 424.18,335.63 423.53,336.30 422.89,336.97 422.26,337.65 421.64,338.32 421.03,339.00 420.43,339.68 419.85,340.36 419.27,341.05 418.71,341.73 418.16,342.42 417.62,343.11 417.10,343.80 416.58,344.49 416.08,345.18 415.59,345.88 415.11,346.58 414.64,347.28 414.18,347.97 413.74,348.68 413.30,349.38 412.88,350.08 412.47,350.79 412.08,351.49 411.69,352.20 411.32,352.91 410.96,353.62 410.61,354.33 410.27,355.04 409.94,355.75 409.63,356.46 409.33,357.17 409.04,357.89 408.76,358.60 408.49,359.32 408.24,360.03 408.00,360.75 407.77,361.47 407.55,362.19 407.34,362.90 407.15,363.62 406.96,364.34 406.79,365.06 406.63,365.78 406.49,366.50 406.35,367.22 406.23,367.94 406.12,368.66 406.02,369.38 405.93,370.10 405.86,370.82 405.80,371.54 405.74,372.26 405.71,372.98 405.68,373.70 405.66,374.42 405.66,375.14 405.67,375.86 405.69,376.58 405.72,377.29 405.76,378.01 405.82,378.73 405.89,379.44 405.97,380.16 406.06,380.87 406.16,381.59 406.28,382.30 406.40,383.02 406.54,383.73 406.69,384.44 406.86,385.15 407.03,385.86 407.22,386.57 407.41,387.27 407.62,387.98 407.84,388.69 408.08,389.39 408.32,390.09 408.58,390.79 408.84,391.49 409.12,392.19 409.41,392.89 409.71,393.59 410.03,394.28 410.35,394.97 410.69,395.67 411.04,396.36 411.40,397.04 411.77,397.73 412.15,398.42 412.54,399.10 412.95,399.78 413.37,400.46 413.79,401.14 414.23,401.82 414.68,402.49 415.14,403.16 415.62,403.83 416.10,404.50 416.60,405.17 417.10,405.83 417.62,406.49 418.15,407.15 418.69,407.81 419.24,408.47 419.80,409.12 420.37,409.77 420.95,410.42 421.55,411.06 422.15,411.71 422.77,412.35 423.39,412.99 424.03,413.62 424.68,414.25 425.33,414.88 426.00,415.51 426.68,416.14 427.37,416.76 428.07,417.38 428.78,417.99 429.51,418.61 430.24,419.22 430.98,419.82 431.73,420.43 432.50,421.03 433.27,421.63 434.05,422.22 434.85,422.82 435.65,423.40 436.46,423.99 437.29,424.57 438.12,425.15 438.96,425.73" class="o mar"/>
<polyline points="407.75,690.30 413.26,691.09 418.79,691.86 424.34,692.60 429.90,693.31 435.48,694.00 441.07,694.67 446.67,695.31 452.28,695.92 457.91,696.51 463.55,697.07 469.20,697.61 474.86,698.12 480.54,698.60 486.22,699.06 491.91,699.49 497.61,699.90 503.32,700.28 509.03,700.63 514.76,700.96 520.49,701.26 526.22,701.54 531.97,701.79 537.71,702.01 543.46,702.21 549.22,702.38 554.98,702.52 560.74,702.64 566.51,702.73 572.28,702.79 578.05,702.83 583.82,702.84 589.59,702.82 595.36,702.78 601.13,702.71 606.90,702.61 612.67,702.49 618.43,702.34 624.19,702.17 629.95,701.96 635.71,701.74 641.46,701.48 647.21,701.20 652.95,700.89 658.69,700.55 664.42,700.19 670.14,699.80 675.86,699.39 681.56,698.95 687.26,698.48 692.95,697.99 698.64,697.47 704.31,696.92 709.97,696.35 715.62,695.75 721.26,695.13 726.88,694.48 732.50,693.80 738.10,693.10 743.69,692.37 749.26,691.62 754.82,690.84 760.36,690.03 765.89,689.20 771.40,688.35 776.90,687.47 782.38,686.56 787.84,685.63 793.28,684.67 798.71,683.69 804.11,682.68 809.50,681.65 814.86,680.59 820.21,679.51 825.53,678.41 830.84,677.28 836.12,676.12 841.38,674.94 846.61,673.74 851.83,672.51 857.01,671.26 862.18,669.99 867.32,668.69 872.43,667.37 877.52,666.03 882.59,664.66 887.62,663.27 892.63,661.86 897.62,660.42 902.57,658.96 907.50,657.48 912.39,655.97 917.26,654.45 922.10,652.90 926.91,651.33 931.69,649.74 936.44,648.12 941.15,646.49 945.84,644.83 950.49,643.15 955.11,641.46 959.70,639.74 964.25,638.00 968.77,636.24 973.26,634.46 977.71,632.66 982.13,630.84 986.52,628.99 990.86,627.13 995.17,625.26 999.45,623.36 1003.69,621.44 1007.89,619.50 1012.06,617.55 1016.18,615.57 1020.27,613.58 1024.32,611.57 1028.34,609.54 1032.31,607.50 1036.24,605.44 1040.14,603.36 1044.00,601.26 1047.81,599.14 1051.58,597.01 1055.32,594.87 1059.01,592.70 1062.66,590.52 1066.27,588.33 1069.84,586.11 1073.37,583.89 1076.85,581.65 1080.29,579.39 1083.69,577.12 1087.05,574.83 1090.36,572.53 1093.63,570.21 1096.85,567.88 1100.03,565.54 1103.17,563.19 1106.26,560.82 1109.30,558.43 1112.30,556.04 1115.26,553.63 1118.17,551.21 1121.04,548.78 1123.85,546.33 1126.63,543.87 1129.35,541.41 1132.03,538.93 1134.67,536.44 1137.26,533.94 1139.80,531.42 1142.29,528.90 1144.74,526.37 1147.13,523.83 1149.49,521.28 1151.79,518.72 1154.05,516.15 1156.25,513.57 1158.41,510.98 1160.53,508.38 1162.59,505.78 1164.60,503.16 1166.57,500.54 1168.49,497.91 1170.36,495.28 1172.18,492.64 1173.95,489.99 1175.67,487.33 1177.35,484.67 1178.97,482.00 1180.55,479.32 1182.07,476.64 1183.55,473.96 1184.98,471.26 1186.36,468.57 1187.69,465.87 1188.97,463.16 1190.20,460.45 1191.38,457.74 1192.51,455.02 1193.59,452.30 1194.62,449.57 1195.60,446.84 1196.54,444.11 1197.42,441.38 1198.25,438.64 1199.04,435.90 1199.77,433.16 1200.46,430.42 1201.09,427.67 1201.68,424.93 1202.21,422.18 1202.70,419.43 1203.14,416.68 1203.52,413.94 1203.86,411.19 1204.15,408.44 1204.39,405.69 1204.58,402.94 1204.72,400.19 1204.81,397.45 1204.86,394.70 1204.85,391.95 1204.80,389.21 1204.69,386.47 1204.54,383.73 1204.34,380.99 1204.09,378.26 1203.80,375.53 1203.45,372.80 1203.06,370.07 1202.61,367.35 1202.12,364.63 1201.59,361.91 1201.00,359.20 1200.37,356.49 1199.69,353.79 1198.96,351.09 1198.18,348.39 1197.36,345.70 1196.49,343.02 1195.57,340.34 1194.61,337.67 1193.60,335.00 1192.55,332.34 1191.44,329.68 1190.30,327.03 1189.10,324.39 1187.86,321.75 1186.58,319.12 1185.25,316.50 1183.87,313.88 1182.45,311.27 1180.98,308.67 1179.47,306.08 1177.92,303.50 1176.32,300.92 1174.68,298.35 1172.99,295.79 1171.26,293.24 1169.48,290.70 1167.66,288.16 1165.80,285.64 1163.90,283.13 1161.95,280.62 1159.96,278.13 1157.93,275.64 1155.86,273.17 1153.74,270.70 1151.59,268.25 1149.39,265.80 1147.15,263.37 1144.87,260.95 1142.55,258.54 1140.19,256.14 1137.79,253.75 1135.35,251.37 1132.87,249.01 1130.34,246.66 1127.78,244.31 1125.19,241.99 1122.55,239.67 1119.87,237.37 1117.16,235.07 1114.41,232.80 1111.62,230.53 1108.79,228.28 1105.93,226.04 1103.02,223.81 1100.09,221.60 1097.11,219.40 1094.10,217.22 1091.05,215.04 1087.97,212.89 1084.85,210.74 1081.70,208.62 1078.52,206.50 1075.29,204.40 1072.04,202.32 1068.75,200.25 1065.42,198.19 1062.07,196.15 1058.68,194.13 1055.26,192.12 1051.80,190.13 1048.31,188.15 1044.79,186.18 1041.24,184.24 1037.66,182.31 1034.05,180.39 1030.40,178.49 1026.73,176.61 1023.02,174.74 1019.29,172.89 1015.53,171.06 1011.73,169.24 1007.91,167.44 1004.06,165.66 1000.18,163.90 996.27,162.15 992.34,160.42 988.38,158.70 984.39,157.00 980.37,155.32 976.33,153.66 972.26,152.02 968.16,150.39 964.04,148.78 959.90,147.19 955.73,145.62 951.53,144.06 947.31,142.53 943.07,141.01 938.80,139.51 934.51,138.03 930.20,136.56 925.86,135.12 921.50,133.69 917.12,132.29 912.72,130.90 908.29,129.53 903.85,128.18 899.38,126.85 894.90,125.53 890.39,124.24 885.86,122.97 881.32,121.71 876.75,120.48 872.17,119.26 867.56,118.06 862.94,116.89 858.30,115.73 853.65,114.59 848.97,113.47 844.28,112.37 839.58,111.29 834.85,110.23 830.11,109.19 825.36,108.18 820.59,107.18 815.80,106.20 811.00,105.24 806.19,104.30 801.36,103.38 796.52,102.48 791.66,101.60 786.79,100.74 781.91,99.91 777.02,99.09 772.11,98.29 767.20,97.51 762.27,96.76 757.33,96.02 752.38,95.31 747.42,94.61 742.45,93.94 737.47,93.29 732.48,92.65 727.48,92.04 722.47,91.45 717.45,90.88 712.43,90.33 707.40,89.80 702.36,89.29 697.31,88.80 692.26,88.34 687.20,87.89 682.13,87.47 677.06,87.06 671.99,86.68 666.90,86.32 661.82,85.97 656.73,85.65 651.63,85.35 646.53,85.07 641.43,84.82 636.32,84.58 631.21,84.36 626.10,84.17 620.99,83.99 615.87,83.84 610.76,83.71 605.64,83.60 600.52,83.51 595.40,83.44 590.28,83.39 585.16,83.36 580.04,83.36 574.92,83.37 569.81,83.41 564.69,83.46 559.58,83.54 554.46,83.64 549.35,83.76 544.25,83.90 539.14,84.06 534.04,84.24 528.94,84.44 523.85,84.66 518.76,84.91 513.68,85.17 508.60,85.46 503.52,85.76 498.45,86.09 493.39,86.44 488.33,86.81 483.28,87.19 478.24,87.60 473.20,88.03 468.17,88.48 463.15,88.95 458.14,89.45 453.14,89.96 448.14,90.49 443.15,91.04 438.18,91.62 433.21,92.21 428.25,92.82 423.30,93.46 418.37,94.11 413.44,94.78 408.53,95.48 403.62,96.19 398.73,96.93 393.85,97.68 388.98,98.46 384.13,99.25 379.29,100.06 374.46,100.90 369.65,101.75 364.85,102.63 360.06,103.52 355.29,104.43 350.54,105.36 345.80,106.31 341.07,107.29 336.36,108.28 331.67,109.29 326.99,110.31 322.33,111.36 317.69,112.43 313.06,113.52 308.45,114.62 303.86,115.75 299.29,116.89 294.74,118.05 290.20,119.23 285.69,120.43 281.19,121.65 276.72,122.89 272.26,124.14 267.82,125.42 263.41,126.71 259.01,128.02 254.64,129.35 250.29,130.69 245.96,132.06 241.65,133.44 237.36,134.84 233.10,136.26 228.86,137.70 224.64,139.15 220.45,140.62 216.28,142.11 212.13,143.62 208.01,145.14 203.91,146.68 199.84,148.24 195.79,149.81 191.77,151.41 187.78,153.02 183.81,154.64 179.86,156.28 175.94,157.94 172.05,159.62 168.19,161.31 164.35,163.02 160.55,164.74 156.77,166.48 153.01,168.24 149.29,170.01 145.59,171.80 141.93,173.60 138.29,175.42 134.68,177.26 131.10,179.11 127.56,180.97 124.04,182.85 120.55,184.75 117.09,186.66 113.67,188.59 110.27,190.53 106.91,192.48 103.58,194.45 100.28,196.43 97.01,198.43 93.78,200.45 90.58,202.47 87.41,204.51 84.28,206.57 81.17,208.63 78.11,210.71 75.07,212.81 72.07,214.92 69.11,217.04 66.18,219.17 63.28,221.32 60.42,223.48 57.60,225.65 54.81,227.84 52.05,230.04 49.33,232.24 46.65,234.47 44.01,236.70 41.40,238.95 38.83,241.20 36.30,243.47 33.80,245.75 31.34,248.05 28.92,250.35 26.54,252.66 24.19,254.99 21.89,257.32 19.62,259.67 17.39,262.03 15.20,264.39 13.05,266.77 10.94,269.16 8.87,271.55 6.83,273.96 4.84,276.38 2.89,278.80 0.98,281.24 -0.89,283.68 -2.72,286.13 -4.51,288.59 -6.26,291.06 -7.96,293.54 -9.63,296.03 -11.25,298.52 -12.83,301.02 -14.37,303.54 -15.87,306.05 -17.32,308.58 -18.73,311.11 -20.10,313.65 -21.43,316.20 -22.71,318.75 -23.95,321.31 -25.15,323.88 -26.30,326.45 -27.41,329.03 -28.48,331.62 -29.50,334.21 -30.48,336.80 -31.42,339.40 -32.31,342.01 -33.15,344.62 -33.95,347.24 -34.71,349.86 -35.42,352.49 -36.09,355.12 -36.71,357.75 -37.29,360.39 -37.82,363.03 -38.31,365.68 -38.75,368.32 -39.14,370.98 -39.49,373.63 -39.80,376.29 -40.05,378.95 -40.27,381.61 -40.43,384.28 -40.55,386.94 -40.63,389.61 -40.66,392.28 -40.64,394.96 -40.57,397.63 -40.46,400.30 -40.30,402.98 -40.10,405.65 -39.85,408.33 -39.55,411.01 -39.21,413.68 -38.81,416.36 -38.38,419.04 -37.89,421.71 -37.36,424.39 -36.78,427.06 -36.15,429.73 -35.48,432.41 -34.76,435.08 -33.99,437.74 -33.18,440.41 -32.32,443.08 -31.41,445.74 -30.45,448.40 -29.45,451.05 -28.40,453.71 -27.31,456.36 -26.16,459.00 -24.97,461.65 -23.73,464.29 -22.45,466.92 -21.12,469.55 -19.74,472.18 -18.31,474.80 -16.84,477.42 -15.32,480.03 -13.75,482.64 -12.14,485.24 -10.48,487.83 -8.77,490.42 -7.02,493.01 -5.22,495.58 -3.37,498.15 -1.48,500.72 0.46,503.27 2.45,505.82 4.48,508.37 6.56,510.90 8.68,513.43 10.85,515.95 13.07,518.46 15.33,520.96 17.64,523.45 19.99,525.93 22.39,528.41 24.83,530.87 27.32,533.33 29.86,535.78 32.43,538.21 35.06,540.64 37.72,543.05 40.44,545.46 43.19,547.85 45.99,550.24 48.84,552.61 51.73,554.97 54.66,557.32 57.63,559.65 60.65,561.98 63.71,564.29 66.82,566.59 69.97,568.88 73.16,571.15 76.39,573.41 79.66,575.66 82.98,577.90 86.34,580.12 89.74,582.32 93.18,584.52 96.66,586.69 100.18,588.86 103.75,591.01 107.35,593.14 111.00,595.26 114.68,597.36 118.40,599.45 122.17,601.52 125.97,603.58 129.81,605.62 133.69,607.64 137.60,609.65 141.56,611.64 145.55,613.61 149.58,615.57 153.65,617.51 157.76,619.43 161.90,621.33 166.07,623.22 170.29,625.09 174.54,626.94 178.82,628.77 183.14,630.58 187.49,632.37 191.88,634.15 196.30,635.91 200.76,637.64 205.25,639.36 209.77,641.06 214.32,642.73 218.91,644.39 223.53,646.03 228.18,647.65 232.86,649.24 237.58,650.82 242.32,652.37 247.09,653.91 251.89,655.42 256.73,656.91 261.59,658.38 266.48,659.83 271.39,661.26 276.34,662.67 281.31,664.05 286.31,665.41 291.34,666.75 296.39,668.07 301.47,669.36 306.57,670.63 311.70,671.88 316.85,673.10 322.03,674.31 327.23,675.49 332.45,676.64 337.70,677.77 342.96,678.88 348.25,679.97 353.56,681.03 358.90,682.06 364.25,683.08 369.62,684.07 375.01,685.03 380.42,685.97 385.85,686.88 391.30,687.78 396.77,688.64 402.25,689.48 407.75,690.30" class="o jup"/>
<polyline points="505.53,327.10 505.15,327.15 504.77,327.20 504.38,327.25 504.00,327.30 503.62,327.35 503.23,327.40 502.85,327.45 502.47,327.50 502.08,327.55 501.70,327.61 501.31,327.66 500.93,327.72 500.54,327.77 500.15,327.82 499.77,327.88 499.38,327.94 498.99,327.99 498.60,328.05 498.22,328.11 497.83,328.16 497.44,328.22 497.05,328.28 496.66,328.34 496.27,328.40 495.88,328.46 495.49,328.52 495.10,328.58 494.71,328.64 494.31,328.70 493.92,328.77 493.53,328.83 493.14,328.89 492.74,328.96 492.35,329.02 491.96,329.09 491.56,329.15 491.17,329.22 490.77,329.29 490.38,329.35 489.98,329.42 489.59,329.49 489.19,329.56 488.79,329.63 488.39,329.69 488.00,329.77 487.60,329.84 487.20,329.91 486.80,329.98 486.40,330.05 486.00,330.12 485.60,330.20 485.20,330.27 484.80,330.34 484.40,330.42 484.00,330.49 483.60,330.57 483.20,330.65 482.79,330.72 482.39,330.80 481.99,330.88 481.58,330.96 481.18,331.04 480.78,331.12 480.37,331.20 479.97,331.28 479.56,331.36 479.16,331.44 478.75,331.52 478.34,331.61 477.94,331.69 477.53,331.77 477.12,331.86 476.71,331.94 476.30,332.03 475.90,332.12 475.49,332.20 475.08,332.29 474.67,332.38 474.26,332.47 473.85,332.56 473.43,332.65 473.02,332.74 472.61,332.83 472.20,332.92 471.79,333.01 471.37,333.11 470.96,333.20 470.55,333.29 470.13,333.39 469.72,333.48 469.30,333.58 468.89,333.68 468.47,333.77 468.06,333.87 467.64,333.97 467.22,334.07 466.81,334.17 466.39,334.27 465.97,334.37 465.55,334.47 465.14,334.57 464.72,334.67 464.30,334.78 463.88,334.88 463.46,334.99 463.04,335.09 462.62,335.20 462.20,335.30 461.78,335.41 461.35,335.52 460.93,335.63 460.51,335.74 460.09,335.85 459.66,335.96 459.24,336.07 458.81,336.18 458.39,336.29 457.97,336.41 457.54,336.52 457.12,336.63 456.69,336.75 456.26,336.87 455.84,336.98 455.41,337.10 454.98,337.22 454.56,337.34 454.13,337.45 453.70,337.57 453.27,337.70 452.84,337.82 452.41,337.94 451.98,338.06 451.55,338.19 451.12,338.31 450.69,338.43 450.26,338.56 449.83,338.69 449.40,338.81 448.96,338.94 448.53,339.07 448.10,339.20 447.67,339.33 447.23,339.46 446.80,339.59 446.36,339.72 445.93,339.86 445.49,339.99 445.06,340.13 444.62,340.26 444.19,340.40 443.75,340.53 443.32,340.67 442.88,340.81 442.44,340.95 442.00,341.09 441.57,341.23 441.13,341.37 440.69,341.51 440.25,341.66 439.81,341.80 439.37,341.95 438.93,342.09 438.49,342.24 438.05,342.38 437.61,342.53 437.17,342.68 436.73,342.83 436.29,342.98 435.84,343.13 435.40,343.28 434.96,343.44 434.52,343.59 434.07,343.74 433.63,343.90 433.18,344.06 432.74,344.21 432.30,344.37 431.85,344.53 431.41,344.69 430.96,344.85 430.52,345.01 430.07,345.17 429.62,345.33 429.18,345.50 428.73,345.66 428.28,345.83 427.84,345.99 427.39,346.16 426.94,346.33 426.49,346.50 426.04,346.67 425.60,346.84 425.15,347.01 424.70,347.18 424.25,347.36 423.80,347.53 423.35,347.71 422.90,347.88 422.45,348.06 422.00,348.24 421.55,348.42 421.10,348.60 420.65,348.78 420.19,348.96 419.74,349.14 419.29,349.33 418.84,349.51 418.39,349.70 417.93,349.88 417.48,350.07 417.03,350.26 416.57,350.45 416.12,350.64 415.67,350.83 415.21,351.02 414.76,351.22 414.30,351.41 413.85,351.61 413.40,351.80 412.94,352.00 412.49,352.20 412.03,352.40 411.58,352.60 411.12,352.80 410.66,353.00 410.21,353.21 409.75,353.41 409.30,353.62 408.84,353.82 408.38,354.03 407.93,354.24 407.47,354.45 407.01,354.66 406.56,354.87 406.10,355.08 405.64,355.30 405.19,355.51 404.73,355.73 404.27,355.94 403.81,356.16 403.36,356.38 402.90,356.60 402.44,356.82 401.98,357.05 401.53,357.27 401.07,357.49 400.61,357.72 400.15,357.95 399.69,358.17 399.24,358.40 398.78,358.63 398.32,358.87 397.86,359.10 397.40,359.33 396.95,359.57 396.49,359.80 396.03,360.04 395.57,360.28 395.11,360.52 394.65,360.76 394.20,361.00 393.74,361.24 393.28,361.49 392.82,361.73 392.36,361.98 391.91,362.22 391.45,362.47 390.99,362.72 390.53,362.97 390.07,363.23 389.62,363.48 389.16,363.73 388.70,363.99 388.24,364.25 387.79,364.51 387.33,364.77 386.87,365.03 386.41,365.29 385.96,365.55 385.50,365.82 385.04,366.08 384.59,366.35 384.13,366.62 383.68,366.89 383.22,367.16 382.76,367.43 382.31,367.70 381.85,367.98 381.40,368.25 380.94,368.53 380.49,368.81 380.04,369.09 379.58,369.37 379.13,369.65 378.67,369.94 378.22,370.22 377.77,370.51 377.31,370.80 376.86,371.09 376.41,371.38 375.96,371.67 375.51,371.96 375.06,372.26 374.61,372.55 374.15,372.85 373.70,373.15 373.26,373.45 372.81,373.75 372.36,374.05 371.91,374.36 371.46,374.66 371.01,374.97 370.57,375.28 370.12,375.58 369.67,375.90 369.23,376.21 368.78,376.52 368.34,376.84 367.89,377.15 367.45,377.47 367.01,377.79 366.56,378.11 366.12,378.43 365.68,378.76 365.24,379.08 364.80,379.41 364.36,379.74 363.92,380.07 363.48,380.40 363.04,380.73 362.60,381.06 362.17,381.40 361.73,381.74 361.30,382.07 360.86,382.41 360.43,382.76 359.99,383.10 359.56,383.44 359.13,383.79 358.70,384.13 358.27,384.48 357.84,384.83 357.41,385.19 356.98,385.54 356.56,385.89 356.13,386.25 355.70,386.61 355.28,386.97 354.86,387.33 354.43,387.69 354.01,388.05 353.59,388.42 353.17,388.79 352.75,389.16 352.33,389.53 351.92,389.90 351.50,390.27 351.09,390.65 350.67,391.02 350.26,391.40 349.85,391.78 349.44,392.16 349.03,392.54 348.62,392.93 348.21,393.31 347.81,393.70 347.40,394.09 347.00,394.48 346.60,394.87 346.19,395.27 345.79,395.66 345.40,396.06 345.00,396.46 344.60,396.86 344.21,397.26 343.81,397.66 343.42,398.07 343.03,398.48 342.64,398.88 342.25,399.29 341.87,399.71 341.48,400.12 341.10,400.53 340.72,400.95 340.34,401.37 339.96,401.79 339.58,402.21 339.20,402.63 338.83,403.06 338.46,403.49 338.09,403.91 337.72,404.34 337.35,404.77 336.98,405.21 336.62,405.64 336.26,406.08 335.89,406.52 335.54,406.96 335.18,407.40 334.82,407.84 334.47,408.29 334.12,408.73 333.77,409.18 333.42,409.63 333.07,410.08 332.73,410.54 332.39,410.99 332.05,411.45 331.71,411.90 331.37,412.36 331.04,412.83 330.71,413.29 330.38,413.75 330.05,414.22 329.73,414.69 329.40,415.16 329.08,415.63 328.76,416.10 328.45,416.58 328.13,417.05 327.82,417.53 327.51,418.01 327.21,418.49 326.90,418.98 326.60,419.46 326.30,419.95 326.00,420.44 325.71,420.93 325.42,421.42 325.13,421.91 324.84,422.41 324.56,422.90 324.27,423.40 323.99,423.90 323.72,424.40 323.45,424.91 323.17,425.41 322.91,425.92 322.64,426.43 322.38,426.93 322.12,427.45 321.86,427.96 321.61,428.47 321.36,428.99 321.11,429.51 320.87,430.03 320.63,430.55 320.39,431.07 320.15,431.59 319.92,432.12 319.69,432.65 319.47,433.18 319.24,433.71 319.02,434.24 318.81,434.77 318.60,435.31 318.39,435.84 318.18,436.38 317.98,436.92 317.78,437.46 317.58,438.01 317.39,438.55 317.20,439.10 317.02,439.65 316.84,440.19 316.66,440.75 316.49,441.30 316.32,441.85 316.15,442.41 315.99,442.96 315.83,443.52 315.67,444.08 315.52,444.64 315.37,445.20 315.23,445.77 315.09,446.33 314.96,446.90 314.83,447.47 314.70,448.03 314.57,448.61 314.46,449.18 314.34,449.75 314.23,450.33 314.12,450.90 314.02,451.48 313.92,452.06 313.83,452.64 313.74,453.22 313.66,453.80 313.58,454.39 313.50,454.97 313.43,455.56 313.36,456.15 313.30,456.73 313.24,457.32 313.19,457.92 313.14,458.51 313.10,459.10 313.06,459.70 313.03,460.29 313.00,460.89 312.98,461.49 312.96,462.09 312.94,462.69 312.93,463.29 312.93,463.89 312.93,464.49 312.94,465.10 312.95,465.70 312.96,466.31 312.98,466.92 313.01,467.53 313.04,468.14 313.08,468.75 313.12,469.36 313.17,469.97 313.22,470.58 313.28,471.19 313.34,471.81 313.41,472.42 313.49,473.04 313.57,473.66 313.66,474.28 313.75,474.89 313.84,475.51 313.95,476.13 314.06,476.75 314.17,477.37 314.29,477.99 314.42,478.62 314.55,479.24 314.69,479.86 314.83,480.49 314.98,481.11 315.14,481.74 315.30,482.36 315.47,482.99 315.64,483.61 315.82,484.24 316.00,484.87 316.20,485.49 316.40,486.12 316.60,486.75 316.81,487.38 317.03,488.01 317.25,488.63 317.48,489.26 317.72,489.89 317.96,490.52 318.21,491.15 318.47,491.78 318.73,492.41 319.00,493.04 319.27,493.67 319.55,494.30 319.84,494.93 320.14,495.56 320.44,496.19 320.75,496.81 321.06,497.44 321.38,498.07 321.71,498.70 322.05,499.33 322.39,499.96 322.74,500.58 323.09,501.21 323.46,501.84 323.83,502.46 324.20,503.09 324.59,503.71 324.98,504.34 325.37,504.96 325.78,505.59 326.19,506.21 326.61,506.83 327.03,507.45 327.47,508.08 327.91,508.70 328.35,509.32 328.81,509.93 329.27,510.55 329.74,511.17 330.21,511.78 330.70,512.40 331.19,513.01 331.68,513.63 332.19,514.24 332.70,514.85 333.22,515.46 333.74,516.07 334.28,516.68 334.82,517.28 335.37,517.89 335.92,518.49 336.49,519.09 337.06,519.70 337.63,520.29 338.22,520.89 338.81,521.49 339.41,522.08 340.02,522.68 340.63,523.27 341.25,523.86 341.88,524.45 342.52,525.04 343.16,525.62 343.81,526.20 344.47,526.79 345.14,527.37 345.81,527.94 346.49,528.52 347.18,529.09 347.88,529.67 348.58,530.24 349.29,530.80 350.01,531.37 350.73,531.93 351.46,532.49 352.20,533.05 352.95,533.61 353.71,534.16 354.47,534.72 355.24,535.27 356.01,535.81 356.80,536.36 357.59,536.90 358.39,537.44 359.19,537.98 360.00,538.51 360.82,539.04 361.65,539.57 362.48,540.10 363.33,540.62 364.17,541.14 365.03,541.66 365.89,542.18 366.76,542.69 367.64,543.20 368.52,543.70 369.41,544.21 370.31,544.71 371.22,545.20 372.13,545.70 373.05,546.19 373.97,546.67 374.90,547.16 375.84,547.64 376.79,548.12 377.74,548.59 378.70,549.06 379.67,549.53 380.64,549.99 381.62,550.45 382.60,550.91 383.60,551.36 384.60,551.81 385.60,552.26 386.61,552.70 387.63,553.14 388.66,553.57 389.69,554.00 390.72,554.43 391.77,554.85 392.82,555.27 393.87,555.68 394.93,556.10 396.00,556.50 397.07,556.91 398.15,557.31 399.24,557.70 400.33,558.09 401.43,558.48 402.53,558.86 403.64,559.24 404.75,559.61 405.87,559.98 407.00,560.35 408.13,560.71 409.26,561.07 410.41,561.42 411.55,561.77 412.71,562.11 413.86,562.45 415.03,562.79 416.19,563.12 417.37,563.44 418.54,563.77 419.73,564.08 420.91,564.40 422.10,564.70 423.30,565.01 424.50,565.30 425.71,565.60 426.92,565.89 428.13,566.17 429.35,566.45 430.58,566.73 431.81,567.00 433.04,567.26 434.27,567.52 435.51,567.78 436.76,568.03 438.01,568.27 439.26,568.51 440.52,568.75 441.77,568.98 443.04,569.21 444.30,569.43 445.58,569.64 446.85,569.86 448.13,570.06 449.41,570.26 450.69,570.46 451.98,570.65 453.27,570.84 454.56,571.02 455.86,571.19 457.15,571.37 458.45,571.53 459.76,571.69 461.07,571.85 462.37,572.00 463.69,572.14 465.00,572.28 466.32,572.42 467.64,572.55 468.96,572.68 470.28,572.80 471.60,572.91 472.93,573.02 474.26,573.13 475.59,573.22 476.92,573.32 478.25,573.41 479.59,573.49 480.93,573.57 482.26,573.64 483.60,573.71 484.94,573.78 486.29,573.84 487.63,573.89 488.97,573.94 490.32,573.98 491.66,574.02 493.01,574.05 494.36,574.08 495.70,574.10 497.05,574.12 498.40,574.13 499.75,574.14 501.10,574.14 502.45,574.14 503.80,574.13 505.15,574.12 506.50,574.10 507.85,574.08 509.20,574.05 510.55,574.02 511.89,573.98 513.24,573.94 514.59,573.89 515.94,573.84 517.29,573.78 518.63,573.72 519.98,573.65 521.32,573.58 522.67,573.50 524.01,573.42 525.35,573.33 526.69,573.24 528.03,573.14 529.37,573.04 530.71,572.93 532.04,572.82 533.38,572.71 534.71,572.59 536.04,572.46 537.37,572.33 538.70,572.20 540.02,572.06 541.35,571.92 542.67,571.77 543.99,571.62 545.31,571.46 546.62,571.30 547.94,571.13 549.25,570.96 550.56,570.79 551.87,570.61 553.17,570.42 554.47,570.24 555.77,570.04 557.07,569.85 558.36,569.64 559.65,569.44 560.94,569.23 562.23,569.02 563.51,568.80 564.79,568.58 566.07,568.35 567.34,568.12 568.61,567.89 569.88,567.65 571.14,567.40 572.40,567.16 573.66,566.91 574.91,566.65 576.16,566.39 577.41,566.13 578.65,565.87 579.89,565.60 581.13,565.32 582.36,565.05 583.59,564.77 584.81,564.48 586.03,564.19 587.25,563.90 588.46,563.60 589.67,563.31 590.88,563.00 592.08,562.70 593.28,562.39 594.47,562.07 595.66,561.76 596.84,561.44 598.02,561.11 599.20,560.79 600.37,560.46 601.54,560.12 602.70,559.79 603.86,559.45 605.01,559.11 606.16,558.76 607.30,558.41 608.44,558.06 609.58,557.70 610.71,557.35 611.84,556.99 612.96,556.62 614.07,556.26 615.18,555.89 616.29,555.51 617.39,555.14 618.49,554.76 619.58,554.38 620.67,554.00 621.75,553.61 622.83,553.22 623.90,552.83 624.97,552.44 626.03,552.04 627.09,551.64 628.14,551.24 629.19,550.84 630.23,550.43 631.27,550.02 632.30,549.61 633.32,549.20 634.35,548.78 635.36,548.37 636.37,547.95 637.38,547.52 638.38,547.10 639.37,546.67 640.36,546.25 641.35,545.82 642.33,545.38 643.30,544.95 644.27,544.51 645.23,544.07 646.19,543.63 647.14,543.19 648.09,542.75 649.03,542.30 649.96,541.86 650.89,541.41 651.82,540.96 652.74,540.50 653.65,540.05 654.56,539.59 655.46,539.14 656.36,538.68 657.25,538.22 658.14,537.75 659.02,537.29 659.90,536.83 660.77,536.36 661.63,535.89 662.49,535.42 663.35,534.95 664.20,534.48 665.04,534.01 665.88,533.53 666.71,533.06 667.53,532.58 668.35,532.10 669.17,531.63 669.98,531.15 670.78,530.67 671.58,530.18 672.38,529.70 673.17,529.22 673.95,528.73 674.73,528.24 675.50,527.76 676.26,527.27 677.02,526.78 677.78,526.29 678.53,525.80 679.27,525.31 680.01,524.82 680.75,524.33 681.48,523.83 682.20,523.34 682.92,522.84 683.63,522.35 684.33,521.85 685.04,521.36 685.73,520.86 686.42,520.36 687.11,519.86 687.79,519.36 688.46,518.86 689.13,518.36 689.80,517.86 690.45,517.36 691.11,516.86 691.76,516.36 692.40,515.86 693.04,515.36 693.67,514.86 694.30,514.35 694.92,513.85 695.54,513.35 696.15,512.84 696.76,512.34 697.36,511.84 697.95,511.33 698.55,510.83 699.13,510.32 699.71,509.82 700.29,509.31 700.86,508.81 701.43,508.31 701.99,507.80 702.54,507.30 703.10,506.79 703.64,506.29 704.18,505.78 704.72,505.28 705.25,504.77 705.78,504.27 706.30,503.76 706.82,503.26 707.33,502.75 707.83,502.25 708.34,501.75 708.83,501.24 709.33,500.74 709.82,500.24 710.30,499.73 710.78,499.23 711.25,498.73 711.72,498.23 712.18,497.72 712.64,497.22 713.10,496.72 713.55,496.22 714.00,495.72 714.44,495.22 714.88,494.72 715.31,494.22 715.74,493.72 716.16,493.22 716.58,492.72 716.99,492.22 717.40,491.72 717.81,491.23 718.21,490.73 718.61,490.23 719.00,489.74 719.39,489.24 719.77,488.75 720.15,488.25 720.53,487.76 720.90,487.27 721.26,486.77 721.63,486.28 721.98,485.79 722.34,485.30 722.69,484.81 723.04,484.32 723.38,483.83 723.71,483.34 724.05,482.85 724.38,482.37 724.70,481.88 725.03,481.39 725.34,480.91 725.66,480.42" class="m up"/>
<polyline points="725.34,480.91 725.66,480.42 725.97,479.94 726.27,479.46 726.57,478.97 726.87,478.49 727.17,478.01 727.46,477.53 727.74,477.05 728.03,476.57 728.30,476.09 728.58,475.62 728.85,475.14 729.12,474.66 729.38,474.19 729.64,473.72 729.90,473.24 730.15,472.77 730.40,472.30 730.65,471.83 730.89,471.36 731.13,470.89 731.36,470.42 731.59,469.95 731.82,469.48 732.05,469.02 732.27,468.55 732.48,468.09 732.70,467.62 732.91,467.16 733.12,466.70 733.32,466.24 733.52,465.78 733.72,465.32 733.91,464.86 734.10,464.40 734.29,463.95 734.47,463.49 734.66,463.04 734.83,462.58 735.01,462.13 735.18,461.68 735.35,461.23 735.51,460.78 735.67,460.33 735.83,459.88 735.99,459.43 736.14,458.99 736.29,458.54 736.44,458.10 736.58,457.65 736.72,457.21 736.86,456.77 736.99,456.33 737.13,455.89 737.25,455.45 737.38,455.02 737.50,454.58 737.62,454.14 737.74,453.71 737.86,453.27 737.97,452.84 738.08,452.41 738.18,451.98 738.29,451.55 738.39,451.12 738.48,450.69 738.58,450.27 738.67,449.84 738.76,449.42 738.85,448.99 738.93,448.57 739.01,448.15 739.09,447.73 739.17,447.31 739.25,446.89 739.32,446.47 739.39,446.06 739.45,445.64 739.52,445.23 739.58,444.81 739.64,444.40 739.69,443.99 739.75,443.58 739.80,443.17 739.85,442.76 739.90,442.35 739.94,441.95 739.98,441.54 740.02,441.14 740.06,440.73 740.10,440.33 740.13,439.93 740.16,439.53 740.19,439.13 740.21,438.73 740.24,438.34 740.26,437.94 740.28,437.54 740.30,437.15 740.31,436.76 740.33,436.36 740.34,435.97 740.35,435.58 740.35,435.20 740.36,434.81 740.36,434.42 740.36,434.03 740.36,433.65 740.35,433.27 740.35,432.88 740.34,432.50 740.33,432.12 740.32,431.74 740.31,431.36 740.29,430.98 740.27,430.61 740.25,430.23 740.23,429.86 740.21,429.48 740.18,429.11 740.15,428.74 740.13,428.37 740.10,428.00 740.06,427.63 740.03,427.26 739.99,426.90 739.95,426.53 739.91,426.17 739.87,425.81 739.83,425.44 739.78,425.08 739.74,424.72 739.69,424.36 739.64,424.00 739.58,423.65 739.53,423.29 739.47,422.93 739.42,422.58 739.36,422.23 739.30,421.87 739.24,421.52 739.17,421.17 739.11,420.82 739.04,420.47 738.97,420.13 738.90,419.78 738.83,419.44 738.76,419.09 738.68,418.75 738.60,418.41 738.53,418.06 738.45,417.72 738.37,417.38 738.28,417.05 738.20,416.71 738.12,416.37 738.03,416.04 737.94,415.70 737.85,415.37 737.76,415.04 737.67,414.70 737.57,414.37 737.48,414.04 737.38,413.71 737.28,413.39 737.18,413.06 737.08,412.73 736.98,412.41 736.88,412.08 736.77,411.76 736.67,411.44 736.56,411.12 736.45,410.80 736.34,410.48 736.23,410.16 736.12,409.84 736.00,409.53 735.89,409.21 735.77,408.90 735.65,408.58 735.53,408.27 735.41,407.96 735.29,407.65 735.17,407.34 735.05,407.03 734.92,406.72 734.80,406.41 734.67,406.11 734.54,405.80 734.41,405.50 734.28,405.19 734.15,404.89 734.02,404.59 733.88,404.29 733.75,403.99 733.61,403.69 733.48,403.39 733.34,403.09 733.20,402.79 733.06,402.50 732.92,402.20 732.77,401.91 732.63,401.62 732.49,401.33 732.34,401.03 732.19,400.74 732.05,400.46 731.90,400.17 731.75,399.88 731.60,399.59 731.44,399.31 731.29,399.02 731.14,398.74 730.98,398.45 730.83,398.17 730.67,397.89 730.52,397.61 730.36,397.33 730.20,397.05 730.04,396.77 729.88,396.49 729.71,396.22 729.55,395.94 729.39,395.67 729.22,395.39 729.06,395.12 728.89,394.85 728.72,394.58 728.56,394.31 728.39,394.04 728.22,393.77 728.05,393.50 727.88,393.23 727.70,392.96 727.53,392.70 727.36,392.43 727.18,392.17 727.01,391.91 726.83,391.64 726.65,391.38 726.47,391.12 726.30,390.86 726.12,390.60 725.94,390.34 725.76,390.08 725.57,389.83 725.39,389.57 725.21,389.32 725.02,389.06 724.84,388.81 724.65,388.55 724.47,388.30 724.28,388.05 724.09,387.80 723.90,387.55 723.72,387.30 723.53,387.05 723.34,386.80 723.14,386.56 722.95,386.31 722.76,386.07 722.57,385.82 722.37,385.58 722.18,385.33 721.98,385.09 721.79,384.85 721.59,384.61 721.39,384.37 721.20,384.13 721.00,383.89 720.80,383.65 720.60,383.42 720.40,383.18 720.20,382.94 720.00,382.71 719.79,382.47 719.59,382.24 719.39,382.01 719.19,381.77 718.98,381.54 718.78,381.31 718.57,381.08 718.36,380.85 718.16,380.62 717.95,380.40 717.74,380.17 717.53,379.94 717.32,379.72 717.11,379.49 716.90,379.27 716.69,379.04 716.48,378.82 716.27,378.60 716.06,378.38 715.85,378.16 715.63,377.94 715.42,377.72 715.20,377.50 714.99,377.28 714.77,377.06 714.56,376.84 714.34,376.63 714.12,376.41 713.91,376.20 713.69,375.98 713.47,375.77 713.25,375.56 713.03,375.34 712.81,375.13 712.59,374.92 712.37,374.71 712.15,374.50 711.93,374.29 711.71,374.08 711.48,373.88 711.26,373.67 711.04,373.46 710.81,373.26 710.59,373.05 710.36,372.85 710.14,372.64 709.91,372.44 709.69,372.24 709.46,372.04 709.23,371.83 709.01,371.63 708.78,371.43 708.55,371.23 708.32,371.04 708.09,370.84 707.86,370.64 707.63,370.44 707.40,370.25 707.17,370.05 706.94,369.86 706.71,369.66 706.48,369.47 706.25,369.27 706.01,369.08 705.78,368.89 705.55,368.70 705.31,368.51 705.08,368.32 704.84,368.13 704.61,367.94 704.37,367.75 704.14,367.56 703.90,367.37 703.66,367.19 703.43,367.00 703.19,366.81 702.95,366.63 702.72,366.44 702.48,366.26 702.24,366.08 702.00,365.89 701.76,365.71 701.52,365.53 701.28,365.35 701.04,365.17 700.80,364.99 700.56,364.81 700.32,364.63 700.08,364.45 699.83,364.27 699.59,364.10 699.35,363.92 699.11,363.74 698.86,363.57 698.62,363.39 698.38,363.22 698.13,363.05 697.89,362.87 697.64,362.70 697.40,362.53 697.15,362.35 696.91,362.18 696.66,362.01 696.42,361.84 696.17,361.67 695.92,361.50 695.67,361.34 695.43,361.17 695.18,361.00 694.93,360.83 694.68,360.67 694.43,360.50 694.19,360.34 693.94,360.17 693.69,360.01 693.44,359.84 693.19,359.68 692.94,359.52 692.69,359.35 692.44,359.19 692.19,359.03 691.93,358.87 691.68,358.71 691.43,358.55 691.18,358.39 690.93,358.23 690.67,358.07 690.42,357.92 690.17,357.76 689.91,357.60 689.66,357.45 689.41,357.29 689.15,357.13 688.90,356.98 688.64,356.83 688.39,356.67 688.13,356.52 687.88,356.37 687.62,356.21 687.37,356.06 687.11,355.91 686.86,355.76 686.60,355.61 686.34,355.46 686.09,355.31 685.83,355.16 685.57,355.01 685.31,354.86 685.06,354.72 684.80,354.57 684.54,354.42 684.28,354.28 684.02,354.13 683.76,353.98 683.50,353.84 683.24,353.70 682.98,353.55 682.72,353.41 682.46,353.27 682.20,353.12 681.94,352.98 681.68,352.84 681.42,352.70 681.16,352.56 680.90,352.42 680.64,352.28 680.38,352.14 680.11,352.00 679.85,351.86 679.59,351.72 679.33,351.58 679.06,351.45 678.80,351.31 678.54,351.17 678.27,351.04 678.01,350.90 677.75,350.77 677.48,350.63 677.22,350.50 676.95,350.37 676.69,350.23 676.42,350.10 676.16,349.97 675.89,349.84 675.63,349.70 675.36,349.57 675.10,349.44 674.83,349.31 674.57,349.18 674.30,349.05 674.03,348.92 673.77,348.80 673.50,348.67 673.23,348.54 672.96,348.41 672.70,348.29 672.43,348.16 672.16,348.03 671.89,347.91 671.63,347.78 671.36,347.66 671.09,347.53 670.82,347.41 670.55,347.28 670.28,347.16 670.01,347.04 669.74,346.92 669.47,346.79 669.20,346.67 668.93,346.55 668.66,346.43 668.39,346.31 668.12,346.19 667.85,346.07 667.58,345.95 667.31,345.83 667.04,345.71 666.77,345.60 666.50,345.48 666.23,345.36 665.95,345.24 665.68,345.13 665.41,345.01 665.14,344.90 664.86,344.78 664.59,344.67 664.32,344.55 664.05,344.44 663.77,344.32 663.50,344.21 663.23,344.10 662.95,343.98 662.68,343.87 662.41,343.76 662.13,343.65 661.86,343.54 661.58,343.43 661.31,343.32 661.03,343.21 660.76,343.10 660.48,342.99 660.21,342.88 659.93,342.77 659.66,342.66 659.38,342.55 659.11,342.45 658.83,342.34 658.55,342.23 658.28,342.13 658.00,342.02 657.72,341.91 657.45,341.81 657.17,341.70 656.89,341.60 656.62,341.50 656.34,341.39 656.06,341.29 655.78,341.19 655.50,341.08 655.23,340.98 654.95,340.88 654.67,340.78 654.39,340.68 654.11,340.57 653.83,340.47 653.56,340.37 653.28,340.27 653.00,340.17 652.72,340.08 652.44,339.98 652.16,339.88 651.88,339.78 651.60,339.68 651.32,339.58 651.04,339.49 650.76,339.39 650.48,339.29 650.20,339.20 649.92,339.10 649.63,339.01 649.35,338.91 649.07,338.82 648.79,338.72 648.51,338.63 648.23,338.54 647.94,338.44 647.66,338.35 647.38,338.26 647.10,338.16 646.82,338.07 646.53,337.98 646.25,337.89 645.97,337.80 645.68,337.71 645.40,337.62 645.12,337.53 644.83,337.44 644.55,337.35 644.27,337.26 643.98,337.17 643.70,337.08 643.41,336.99 643.13,336.91 642.84,336.82 642.56,336.73 642.27,336.65 641.99,336.56 641.70,336.47 641.42,336.39 641.13,336.30 640.85,336.22 640.56,336.13 640.28,336.05 639.99,335.96 639.70,335.88 639.42,335.80 639.13,335.71 638.84,335.63 638.56,335.55 638.27,335.47 637.98,335.38 637.70,335.30 637.41,335.22 637.12,335.14 636.83,335.06 636.54,334.98 636.26,334.90 635.97,334.82 635.68,334.74 635.39,334.66 635.10,334.58 634.81,334.51 634.52,334.43 634.24,334.35 633.95,334.27 633.66,334.20 633.37,334.12 633.08,334.04 632.79,333.97 632.50,333.89 632.21,333.81 631.92,333.74 631.63,333.66 631.34,333.59 631.05,333.51 630.75,333.44 630.46,333.37 630.17,333.29 629.88,333.22 629.59,333.15 629.30,333.08 629.01,333.00 628.71,332.93 628.42,332.86 628.13,332.79 627.84,332.72 627.54,332.65 627.25,332.58 626.96,332.51 626.67,332.44 626.37,332.37 626.08,332.30 625.79,332.23 625.49,332.16 625.20,332.09 624.90,332.02 624.61,331.96 624.32,331.89 624.02,331.82 623.73,331.76 623.43,331.69 623.14,331.62 622.84,331.56 622.55,331.49 622.25,331.43 621.96,331.36 621.66,331.30 621.36,331.23 621.07,331.17 620.77,331.10 620.48,331.04 620.18,330.98 619.88,330.91 619.59,330.85 619.29,330.79 618.99,330.73 618.70,330.67 618.40,330.60 618.10,330.54 617.80,330.48 617.50,330.42 617.21,330.36 616.91,330.30 616.61,330.24 616.31,330.18 616.01,330.12 615.71,330.06 615.41,330.01 615.11,329.95 614.82,329.89 614.52,329.83 614.22,329.77 613.92,329.72 613.62,329.66 613.32,329.60 613.02,329.55 612.72,329.49 612.41,329.44 612.11,329.38 611.81,329.33 611.51,329.27 611.21,329.22 610.91,329.16 610.61,329.11 610.30,329.06 610.00,329.00 609.70,328.95 609.40,328.90 609.09,328.84 608.79,328.79 608.49,328.74 608.19,328.69 607.88,328.64 607.58,328.59 607.28,328.54 606.97,328.48 606.67,328.43 606.36,328.38 606.06,328.34 605.75,328.29 605.45,328.24 605.15,328.19 604.84,328.14 604.53,328.09 604.23,328.04 603.92,328.00 603.62,327.95 603.31,327.90 603.01,327.86 602.70,327.81 602.39,327.76 602.09,327.72 601.78,327.67 601.47,327.63 601.17,327.58 600.86,327.54 600.55,327.49 600.24,327.45 599.93,327.40 599.63,327.36 599.32,327.32 599.01,327.27 598.70,327.23 598.39,327.19 598.08,327.15 597.77,327.10 597.46,327.06 597.16,327.02 596.85,326.98 596.54,326.94 596.23,326.90 595.91,326.86 595.60,326.82 595.29,326.78 594.98,326.74 594.67,326.70 594.36,326.66 594.05,326.62 593.74,326.59 593.42,326.55 593.11,326.51 592.80,326.47 592.49,326.44 592.18,326.40 591.86,326.36 591.55,326.33 591.24,326.29 590.92,326.26 590.61,326.22 590.29,326.18 589.98,326.15 589.67,326.12 589.35,326.08 589.04,326.05 588.72,326.01 588.41,325.98 588.09,325.95 587.78,325.91 587.46,325.88 587.14,325.85 586.83,325.82 586.51,325.79 586.20,325.76 585.88,325.72 585.56,325.69 585.24,325.66 584.93,325.63 584.61,325.60 584.29,325.57 583.97,325.54 583.66,325.52 583.34,325.49 583.02,325.46 582.70,325.43 582.38,325.40 582.06,325.37 581.74,325.35 581.42,325.32 581.10,325.29 580.78,325.27 580.46,325.24 580.14,325.22 579.82,325.19 579.50,325.16 579.18,325.14 578.86,325.11 578.54,325.09 578.21,325.07 577.89,325.04 577.57,325.02 577.25,325.00 576.92,324.97 576.60,324.95 576.28,324.93 575.95,324.91 575.63,324.88 575.31,324.86 574.98,324.84 574.66,324.82 574.33,324.80 574.01,324.78 573.68,324.76 573.36,324.74 573.03,324.72 572.71,324.70 572.38,324.68 572.06,324.66 571.73,324.65 571.40,324.63 571.08,324.61 570.75,324.59 570.42,324.58 570.09,324.56 569.77,324.54 569.44,324.53 569.11,324.51 568.78,324.50 568.45,324.48 568.12,324.47 567.79,324.45 567.47,324.44 567.14,324.42 566.81,324.41 566.48,324.40 566.15,324.38 565.81,324.37 565.48,324.36 565.15,324.35 564.82,324.33 564.49,324.32 564.16,324.31 563.83,324.30 563.49,324.29 563.16,324.28 562.83,324.27 562.49,324.26 562.16,324.25 561.83,324.24 561.49,324.23 561.16,324.22 560.83,324.21 560.49,324.21 560.16,324.20 559.82,324.19 559.49,324.18 559.15,324.18 558.81,324.17 558.48,324.17 558.14,324.16 557.80,324.15 557.47,324.15 557.13,324.14 556.79,324.14 556.46,324.14 556.12,324.13 555.78,324.13 555.44,324.13 555.10,324.12 554.76,324.12 554.42,324.12 554.08,324.12 553.74,324.11 553.40,324.11 553.06,324.11 552.72,324.11 552.38,324.11 552.04,324.11 551.70,324.11 551.36,324.11 551.02,324.11 550.67,324.12 550.33,324.12 549.99,324.12 549.65,324.12 549.30,324.12 548.96,324.13 548.61,324.13 548.27,324.13 547.93,324.14 547.58,324.14 547.24,324.15 546.89,324.15 546.55,324.16 546.20,324.16 545.85,324.17 545.51,324.17 545.16,324.18 544.81,324.19 544.47,324.20 544.12,324.20 543.77,324.21 543.42,324.22 543.07,324.23 542.73,324.24 542.38,324.25 542.03,324.26 541.68,324.27 541.33,324.28 540.98,324.29 540.63,324.30 540.28,324.31 539.93,324.32 539.57,324.33 539.22,324.35 538.87,324.36 538.52,324.37 538.17,324.38 537.81,324.40 537.46,324.41 537.11,324.43 536.75,324.44 536.40,324.46 536.04,324.47 535.69,324.49 535.34,324.51 534.98,324.52 534.62,324.54 534.27,324.56 533.91,324.57 533.56,324.59 533.20,324.61 532.84,324.63 532.49,324.65 532.13,324.67 531.77,324.69 531.41,324.71 531.05,324.73 530.69,324.75 530.33,324.77 529.98,324.79 529.62,324.82 529.26,324.84 528.89,324.86 528.53,324.88 528.17,324.91 527.81,324.93 527.45,324.96 527.09,324.98 526.73,325.01 526.36,325.03 526.00,325.06 525.64,325.08 525.27,325.11 524.91,325.14 524.55,325.16 524.18,325.19 523.82,325.22 523.45,325.25 523.09,325.28 522.72,325.31 522.35,325.34 521.99,325.37 521.62,325.40 521.25,325.43 520.89,325.46 520.52,325.49 520.15,325.52 519.78,325.56 519.41,325.59 519.04,325.62 518.67,325.66 518.30,325.69 517.93,325.72 517.56,325.76 517.19,325.79 516.82,325.83 516.45,325.87 516.08,325.90 515.71,325.94 515.33,325.98 514.96,326.02 514.59,326.05 514.21,326.09 513.84,326.13 513.47,326.17 513.09,326.21 512.72,326.25 512.34,326.29 511.97,326.33 511.59,326.37 511.21,326.42 510.84,326.46 510.46,326.50 510.08,326.54 509.71,326.59 509.33,326.63 508.95,326.68 508.57,326.72 508.19,326.77 507.81,326.81 507.43,326.86 507.05,326.91 506.67,326.95 506.29,327.00 505.91,327.05 505.53,327.10" class="m dn"/>
<polyline points="704.61,367.94 704.37,367.75 704.14,367.56 703.90,367.37 703.66,367.19 703.43,367.00 703.19,366.81 702.95,366.63 702.72,366.44 702.48,366.26 702.24,366.08 702.00,365.89 701.76,365.71 701.52,365.53 701.28,365.35 701.04,365.17 700.80,364.99 700.56,364.81 700.32,364.63 700.08,364.45 699.83,364.27 699.59,364.10 699.35,363.92 699.11,363.74 698.86,363.57 698.62,363.39 698.38,363.22 698.13,363.05 697.89,362.87 697.64,362.70 697.40,362.53 697.15,362.35 696.91,362.18 696.66,362.01 696.42,361.84 696.17,361.67 695.92,361.50 695.67,361.34 695.43,361.17 695.18,361.00 694.93,360.83 694.68,360.67 694.43,360.50 694.19,360.34 693.94,360.17 693.69,360.01 693.44,359.84 693.19,359.68 692.94,359.52 692.69,359.35 692.44,359.19 692.19,359.03 691.93,358.87 691.68,358.71 691.43,358.55 691.18,358.39 690.93,358.23 690.67,358.07 690.42,357.92 690.17,357.76 689.91,357.60 689.66,357.45 689.41,357.29 689.15,357.13 688.90,356.98 688.64,356.83 688.39,356.67 688.13,356.52 687.88,356.37 687.62,356.21 687.37,356.06 687.11,355.91 686.86,355.76 686.60,355.61 686.34,355.46 686.09,355.31 685.83,355.16 685.57,355.01 685.31,354.86 685.06,354.72 684.80,354.57 684.54,354.42 684.28,354.28 684.02,354.13 683.76,353.98 683.50,353.84 683.24,353.70 682.98,353.55 682.72,353.41 682.46,353.27 682.20,353.12 681.94,352.98 681.68,352.84 681.42,352.70 681.16,352.56 680.90,352.42 680.64,352.28 680.38,352.14 680.11,352.00 679.85,351.86 679.59,351.72 679.33,351.58 679.06,351.45 678.80,351.31 678.54,351.17 678.27,351.04 678.01,350.90 677.75,350.77 677.48,350.63 677.22,350.50 676.95,350.37 676.69,350.23 676.42,350.10 676.16,349.97 675.89,349.84 675.63,349.70 675.36,349.57 675.10,349.44 674.83,349.31 674.57,349.18 674.30,349.05 674.03,348.92 673.77,348.80 673.50,348.67 673.23,348.54 672.96,348.41 672.70,348.29 672.43,348.16 672.16,348.03 671.89,347.91 671.63,347.78 671.36,347.66 671.09,347.53 670.82,347.41 670.55,347.28 670.28,347.16 670.01,347.04 669.74,346.92 669.47,346.79 669.20,346.67 668.93,346.55 668.66,346.43 668.39,346.31 668.12,346.19 667.85,346.07 667.58,345.95 667.31,345.83 667.04,345.71 666.77,345.60 666.50,345.48 666.23,345.36 665.95,345.24 665.68,345.13 665.41,345.01 665.14,344.90 664.86,344.78 664.59,344.67 664.32,344.55 664.05,344.44 663.77,344.32 663.50,344.21 663.23,344.10 662.95,343.98 662.68,343.87 662.41,343.76 662.13,343.65 661.86,343.54 661.58,343.43 661.31,343.32 661.03,343.21 660.76,343.10 660.48,342.99 660.21,342.88 659.93,342.77 659.66,342.66 659.38,342.55 659.11,342.45 658.83,342.34 658.55,342.23 658.28,342.13 658.00,342.02 657.72,341.91 657.45,341.81 657.17,341.70 656.89,341.60 656.62,341.50 656.34,341.39 656.06,341.29 655.78,341.19 655.50,341.08 655.23,340.98 654.95,340.88 654.67,340.78 654.39,340.68 654.11,340.57 653.83,340.47 653.56,340.37 653.28,340.27 653.00,340.17 652.72,340.08 652.44,339.98 652.16,339.88 651.88,339.78 651.60,339.68 651.32,339.58 651.04,339.49 650.76,339.39 650.48,339.29 650.20,339.20 649.92,339.10 649.63,339.01 649.35,338.91 649.07,338.82 648.79,338.72 648.51,338.63 648.23,338.54 647.94,338.44 647.66,338.35 647.38,338.26 647.10,338.16 646.82,338.07 646.53,337.98 646.25,337.89 645.97,337.80 645.68,337.71 645.40,337.62 645.12,337.53 644.83,337.44 644.55,337.35 644.27,337.26 643.98,337.17 643.70,337.08 643.41,336.99 643.13,336.91 642.84,336.82 642.56,336.73 642.27,336.65 641.99,336.56 641.70,336.47 641.42,336.39 641.13,336.30 640.85,336.22 640.56,336.13 640.28,336.05 639.99,335.96 639.70,335.88 639.42,335.80 639.13,335.71 638.84,335.63 638.56,335.55 638.27,335.47 637.98,335.38 637.70,335.30 637.41,335.22 637.12,335.14 636.83,335.06 636.54,334.98 636.26,334.90 635.97,334.82 635.68,334.74 635.39,334.66 635.10,334.58 634.81,334.51 634.52,334.43 634.24,334.35 633.95,334.27 633.66,334.20 633.37,334.12 633.08,334.04 632.79,333.97 632.50,333.89 632.21,333.81 631.92,333.74 631.63,333.66 631.34,333.59 631.05,333.51 630.75,333.44 630.46,333.37 630.17,333.29 629.88,333.22 629.59,333.15 629.30,333.08 629.01,333.00 628.71,332.93 628.42,332.86 628.13,332.79 627.84,332.72 627.54,332.65 627.25,332.58 626.96,332.51 626.67,332.44 626.37,332.37 626.08,332.30 625.79,332.23 625.49,332.16 625.20,332.09 624.90,332.02 624.61,331.96 624.32,331.89 624.02,331.82 623.73,331.76 623.43,331.69 623.14,331.62 622.84,331.56 622.55,331.49 622.25,331.43 621.96,331.36 621.66,331.30 621.36,331.23 621.07,331.17 620.77,331.10 620.48,331.04 620.18,330.98 619.88,330.91 619.59,330.85 619.29,330.79 618.99,330.73 618.70,330.67 618.40,330.60 618.10,330.54 617.80,330.48 617.50,330.42 617.21,330.36 616.91,330.30 616.61,330.24 616.31,330.18 616.01,330.12 615.71,330.06 615.41,330.01 615.11,329.95 614.82,329.89 614.52,329.83 614.22,329.77 613.92,329.72 613.62,329.66 613.32,329.60 613.02,329.55 612.72,329.49 612.41,329.44 612.11,329.38 611.81,329.33 611.51,329.27 611.21,329.22 610.91,329.16 610.61,329.11 610.30,329.06 610.00,329.00 609.70,328.95 609.40,328.90 609.09,328.84 608.79,328.79 608.49,328.74 608.19,328.69 607.88,328.64 607.58,328.59 607.28,328.54 606.97,328.48 606.67,328.43 606.36,328.38 606.06,328.34 605.75,328.29 605.45,328.24 605.15,328.19 604.84,328.14 604.53,328.09 604.23,328.04 603.92,328.00 603.62,327.95 603.31,327.90 603.01,327.86 602.70,327.81 602.39,327.76 602.09,327.72 601.78,327.67 601.47,327.63 601.17,327.58 600.86,327.54 600.55,327.49 600.24,327.45 599.93,327.40 599.63,327.36 599.32,327.32 599.01,327.27 598.70,327.23 598.39,327.19 598.08,327.15 597.77,327.10 597.46,327.06 597.16,327.02 596.85,326.98 596.54,326.94 596.23,326.90 595.91,326.86 595.60,326.82 595.29,326.78 594.98,326.74 594.67,326.70 594.36,326.66 594.05,326.62 593.74,326.59 593.42,326.55 593.11,326.51 592.80,326.47 592.49,326.44 592.18,326.40 591.86,326.36 591.55,326.33 591.24,326.29 590.92,326.26 590.61,326.22 590.29,326.18 589.98,326.15 589.67,326.12 589.35,326.08 589.04,326.05 588.72,326.01 588.41,325.98 588.09,325.95 587.78,325.91 587.46,325.88 587.14,325.85 586.83,325.82 586.51,325.79 586.20,325.76 585.88,325.72 585.56,325.69 585.24,325.66 584.93,325.63 584.61,325.60 584.29,325.57 583.97,325.54 583.66,325.52 583.34,325.49 583.02,325.46 582.70,325.43 582.38,325.40 582.06,325.37 581.74,325.35 581.42,325.32 581.10,325.29 580.78,325.27 580.46,325.24 580.14,325.22 579.82,325.19 579.50,325.16 579.18,325.14 578.86,325.11 578.54,325.09 578.21,325.07 577.89,325.04 577.57,325.02 577.25,325.00 576.92,324.97 576.60,324.95 576.28,324.93 575.95,324.91 575.63,324.88 575.31,324.86 574.98,324.84 574.66,324.82 574.33,324.80 574.01,324.78 573.68,324.76 573.36,324.74 573.03,324.72 572.71,324.70 572.38,324.68 572.06,324.66 571.73,324.65 571.40,324.63 571.08,324.61 570.75,324.59 570.42,324.58 570.09,324.56 569.77,324.54 569.44,324.53 569.11,324.51 568.78,324.50 568.45,324.48 568.12,324.47 567.79,324.45 567.47,324.44 567.14,324.42 566.81,324.41 566.48,324.40 566.15,324.38 565.81,324.37 565.48,324.36 565.15,324.35 564.82,324.33 564.49,324.32 564.16,324.31 563.83,324.30 563.49,324.29 563.16,324.28 562.83,324.27 562.49,324.26 562.16,324.25 561.83,324.24 561.49,324.23 561.16,324.22 560.83,324.21 560.49,324.21 560.16,324.20 559.82,324.19 559.49,324.18 559.15,324.18 558.81,324.17 558.48,324.17 558.14,324.16 557.80,324.15 557.47,324.15 557.13,324.14 556.79,324.14 556.46,324.14 556.12,324.13 555.78,324.13 555.44,324.13 555.10,324.12 554.76,324.12 554.42,324.12 554.08,324.12 553.74,324.11 553.40,324.11 553.06,324.11 552.72,324.11 552.38,324.11 552.04,324.11 551.70,324.11 551.36,324.11 551.02,324.11 550.67,324.12 550.33,324.12 549.99,324.12 549.65,324.12 549.30,324.12 548.96,324.13 548.61,324.13 548.27,324.13 547.93,324.14 547.58,324.14 547.24,324.15 546.89,324.15 546.55,324.16 546.20,324.16 545.85,324.17 545.51,324.17 545.16,324.18 544.81,324.19 544.47,324.20 544.12,324.20 543.77,324.21 543.42,324.22 543.07,324.23 542.73,324.24 542.38,324.25 542.03,324.26 541.68,324.27 541.33,324.28 540.98,324.29 540.63,324.30 540.28,324.31 539.93,324.32 539.57,324.33 539.22,324.35 538.87,324.36 538.52,324.37 538.17,324.38 537.81,324.40 537.46,324.41 537.11,324.43 536.75,324.44 536.40,324.46 536.04,324.47 535.69,324.49 535.34,324.51 534.98,324.52 534.62,324.54 534.27,324.56 533.91,324.57 533.56,324.59 533.20,324.61 532.84,324.63 532.49,324.65 532.13,324.67 531.77,324.69 531.41,324.71 531.05,324.73 530.69,324.75 530.33,324.77 529.98,324.79 529.62,324.82 529.26,324.84 528.89,324.86 528.53,324.88 528.17,324.91 527.81,324.93 527.45,324.96 527.09,324.98 526.73,325.01 526.36,325.03 526.00,325.06 525.64,325.08 525.27,325.11 524.91,325.14 524.55,325.16 524.18,325.19 523.82,325.22 523.45,325.25 523.09,325.28 522.72,325.31 522.35,325.34 521.99,325.37 521.62,325.40 521.25,325.43 520.89,325.46 520.52,325.49 520.15,325.52 519.78,325.56 519.41,325.59 519.04,325.62 518.67,325.66 518.30,325.69 517.93,325.72 517.56,325.76 517.19,325.79 516.82,325.83 516.45,325.87 516.08,325.90 515.71,325.94 515.33,325.98 514.96,326.02 514.59,326.05 514.21,326.09 513.84,326.13 513.47,326.17 513.09,326.21 512.72,326.25 512.34,326.29 511.97,326.33 511.59,326.37 511.21,326.42 510.84,326.46 510.46,326.50 510.08,326.54 509.71,326.59 509.33,326.63 508.95,326.68 508.57,326.72 508.19,326.77 507.81,326.81 507.43,326.86 507.05,326.91 506.67,326.95 506.29,327.00 505.91,327.05 505.53,327.10" class="mdot"/>
<polyline points="704.61,367.94 704.37,367.75 704.14,367.56 703.90,367.37 703.66,367.19 703.43,367.00 703.19,366.81 702.95,366.63 702.72,366.44 702.48,366.26 702.24,366.08 702.00,365.89 701.76,365.71 701.52,365.53 701.28,365.35 701.04,365.17 700.80,364.99 700.56,364.81 700.32,364.63 700.08,364.45 699.83,364.27 699.59,364.10 699.35,363.92 699.11,363.74 698.86,363.57 698.62,363.39 698.38,363.22 698.13,363.05 697.89,362.87 697.64,362.70 697.40,362.53 697.15,362.35 696.91,362.18 696.66,362.01 696.42,361.84 696.17,361.67 695.92,361.50 695.67,361.34 695.43,361.17 695.18,361.00 694.93,360.83 694.68,360.67 694.43,360.50 694.19,360.34 693.94,360.17 693.69,360.01 693.44,359.84 693.19,359.68 692.94,359.52 692.69,359.35 692.44,359.19 692.19,359.03 691.93,358.87 691.68,358.71 691.43,358.55 691.18,358.39 690.93,358.23 690.67,358.07 690.42,357.92 690.17,357.76 689.91,357.60 689.66,357.45 689.41,357.29 689.15,357.13 688.90,356.98 688.64,356.83 688.39,356.67 688.13,356.52 687.88,356.37 687.62,356.21 687.37,356.06 687.11,355.91 686.86,355.76 686.60,355.61 686.34,355.46 686.09,355.31 685.83,355.16 685.57,355.01 685.31,354.86 685.06,354.72 684.80,354.57 684.54,354.42 684.28,354.28 684.02,354.13 683.76,353.98 683.50,353.84 683.24,353.70 682.98,353.55 682.72,353.41 682.46,353.27 682.20,353.12 681.94,352.98 681.68,352.84 681.42,352.70 681.16,352.56 680.90,352.42 680.64,352.28 680.38,352.14 680.11,352.00 679.85,351.86 679.59,351.72 679.33,351.58 679.06,351.45 678.80,351.31 678.54,351.17 678.27,351.04 678.01,350.90 677.75,350.77 677.48,350.63 677.22,350.50 676.95,350.37 676.69,350.23 676.42,350.10 676.16,349.97 675.89,349.84 675.63,349.70 675.36,349.57 675.10,349.44 674.83,349.31 674.57,349.18 674.30,349.05 674.03,348.92 673.77,348.80 673.50,348.67 673.23,348.54 672.96,348.41 672.70,348.29 672.43,348.16 672.16,348.03 671.89,347.91 671.63,347.78 671.36,347.66 671.09,347.53 670.82,347.41 670.55,347.28 670.28,347.16 670.01,347.04 669.74,346.92 669.47,346.79 669.20,346.67 668.93,346.55 668.66,346.43 668.39,346.31 668.12,346.19 667.85,346.07 667.58,345.95 667.31,345.83 667.04,345.71 666.77,345.60 666.50,345.48 666.23,345.36 665.95,345.24 665.68,345.13 665.41,345.01 665.14,344.90 664.86,344.78 664.59,344.67 664.32,344.55 664.05,344.44 663.77,344.32 663.50,344.21 663.23,344.10 662.95,343.98 662.68,343.87 662.41,343.76 662.13,343.65 661.86,343.54 661.58,343.43 661.31,343.32 661.03,343.21 660.76,343.10 660.48,342.99 660.21,342.88 659.93,342.77 659.66,342.66 659.38,342.55 659.11,342.45 658.83,342.34 658.55,342.23 658.28,342.13 658.00,342.02 657.72,341.91 657.45,341.81 657.17,341.70 656.89,341.60 656.62,341.50 656.34,341.39 656.06,341.29 655.78,341.19 655.50,341.08 655.23,340.98 654.95,340.88 654.67,340.78 654.39,340.68 654.11,340.57 653.83,340.47 653.56,340.37 653.28,340.27 653.00,340.17 652.72,340.08 652.44,339.98 652.16,339.88 651.88,339.78 651.60,339.68 651.32,339.58 651.04,339.49 650.76,339.39 650.48,339.29 650.20,339.20 649.92,339.10 649.63,339.01 649.35,338.91 649.07,338.82 648.79,338.72 648.51,338.63 648.23,338.54 647.94,338.44 647.66,338.35 647.38,338.26 647.10,338.16 646.82,338.07 646.53,337.98 646.25,337.89 645.97,337.80 645.68,337.71 645.40,337.62 645.12,337.53 644.83,337.44 644.55,337.35 644.27,337.26 643.98,337.17 643.70,337.08 643.41,336.99 643.13,336.91 642.84,336.82 642.56,336.73 642.27,336.65 641.99,336.56 641.70,336.47 641.42,336.39 641.13,336.30 640.85,336.22 640.56,336.13 640.28,336.05 639.99,335.96 639.70,335.88 639.42,335.80 639.13,335.71 638.84,335.63 638.56,335.55 638.27,335.47 637.98,335.38 637.70,335.30 637.41,335.22 637.12,335.14 636.83,335.06 636.54,334.98 636.26,334.90 635.97,334.82 635.68,334.74 635.39,334.66 635.10,334.58 634.81,334.51 634.52,334.43 634.24,334.35 633.95,334.27 633.66,334.20 633.37,334.12 633.08,334.04 632.79,333.97 632.50,333.89 632.21,333.81 631.92,333.74 631.63,333.66 631.34,333.59 631.05,333.51 630.75,333.44 630.46,333.37 630.17,333.29 629.88,333.22 629.59,333.15 629.30,333.08 629.01,333.00 628.71,332.93 628.42,332.86 628.13,332.79 627.84,332.72 627.54,332.65 627.25,332.58 626.96,332.51 626.67,332.44 626.37,332.37 626.08,332.30 625.79,332.23 625.49,332.16 625.20,332.09 624.90,332.02 624.61,331.96 624.32,331.89 624.02,331.82 623.73,331.76 623.43,331.69 623.14,331.62 622.84,331.56 622.55,331.49 622.25,331.43 621.96,331.36 621.66,331.30 621.36,331.23 621.07,331.17 620.77,331.10 620.48,331.04 620.18,330.98 619.88,330.91 619.59,330.85 619.29,330.79 618.99,330.73 618.70,330.67 618.40,330.60 618.10,330.54 617.80,330.48 617.50,330.42 617.21,330.36 616.91,330.30 616.61,330.24 616.31,330.18 616.01,330.12 615.71,330.06 615.41,330.01 615.11,329.95 614.82,329.89 614.52,329.83 614.22,329.77 613.92,329.72 613.62,329.66 613.32,329.60 613.02,329.55 612.72,329.49 612.41,329.44 612.11,329.38 611.81,329.33 611.51,329.27 611.21,329.22 610.91,329.16 610.61,329.11 610.30,329.06 610.00,329.00 609.70,328.95 609.40,328.90 609.09,328.84 608.79,328.79 608.49,328.74 608.19,328.69 607.88,328.64 607.58,328.59 607.28,328.54 606.97,328.48 606.67,328.43 606.36,328.38 606.06,328.34 605.75,328.29 605.45,328.24 605.15,328.19 604.84,328.14 604.53,328.09 604.23,328.04 603.92,328.00 603.62,327.95 603.31,327.90 603.01,327.86 602.70,327.81 602.39,327.76 602.09,327.72 601.78,327.67 601.47,327.63 601.17,327.58 600.86,327.54 600.55,327.49 600.24,327.45 599.93,327.40 599.63,327.36 599.32,327.32 599.01,327.27 598.70,327.23 598.39,327.19 598.08,327.15 597.77,327.10 597.46,327.06 597.16,327.02 596.85,326.98 596.54,326.94 596.23,326.90 595.91,326.86 595.60,326.82 595.29,326.78 594.98,326.74 594.67,326.70 594.36,326.66 594.05,326.62 593.74,326.59 593.42,326.55 593.11,326.51 592.80,326.47 592.49,326.44 592.18,326.40 591.86,326.36 591.55,326.33 591.24,326.29 590.92,326.26 590.61,326.22 590.29,326.18 589.98,326.15 589.67,326.12 589.35,326.08 589.04,326.05 588.72,326.01 588.41,325.98 588.09,325.95 587.78,325.91 587.46,325.88 587.14,325.85 586.83,325.82 586.51,325.79 586.20,325.76 585.88,325.72 585.56,325.69 585.24,325.66 584.93,325.63 584.61,325.60 584.29,325.57 583.97,325.54 583.66,325.52 583.34,325.49 583.02,325.46 582.70,325.43 582.38,325.40 582.06,325.37 581.74,325.35 581.42,325.32 581.10,325.29 580.78,325.27 580.46,325.24 580.14,325.22 579.82,325.19 579.50,325.16 579.18,325.14 578.86,325.11 578.54,325.09 578.21,325.07 577.89,325.04 577.57,325.02 577.25,325.00 576.92,324.97 576.60,324.95 576.28,324.93 575.95,324.91 575.63,324.88 575.31,324.86 574.98,324.84 574.66,324.82 574.33,324.80 574.01,324.78 573.68,324.76 573.36,324.74 573.03,324.72 572.71,324.70 572.38,324.68 572.06,324.66 571.73,324.65 571.40,324.63 571.08,324.61 570.75,324.59 570.42,324.58 570.09,324.56 569.77,324.54 569.44,324.53 569.11,324.51 568.78,324.50 568.45,324.48 568.12,324.47 567.79,324.45 567.47,324.44 567.14,324.42 566.81,324.41 566.48,324.40 566.15,324.38 565.81,324.37 565.48,324.36 565.15,324.35 564.82,324.33 564.49,324.32 564.16,324.31 563.83,324.30 563.49,324.29 563.16,324.28 562.83,324.27 562.49,324.26 562.16,324.25 561.83,324.24 561.49,324.23 561.16,324.22 560.83,324.21 560.49,324.21 560.16,324.20 559.82,324.19 559.49,324.18 559.15,324.18 558.81,324.17 558.48,324.17 558.14,324.16 557.80,324.15 557.47,324.15 557.13,324.14 556.79,324.14 556.46,324.14 556.12,324.13 555.78,324.13 555.44,324.13 555.10,324.12 554.76,324.12 554.42,324.12 554.08,324.12 553.74,324.11 553.40,324.11 553.06,324.11 552.72,324.11 552.38,324.11 552.04,324.11 551.70,324.11 551.36,324.11 551.02,324.11 550.67,324.12 550.33,324.12 549.99,324.12 549.65,324.12 549.30,324.12 548.96,324.13 548.61,324.13 548.27,324.13 547.93,324.14 547.58,324.14 547.24,324.15 546.89,324.15 546.55,324.16 546.20,324.16 545.85,324.17 545.51,324.17 545.16,324.18 544.81,324.19 544.47,324.20 544.12,324.20 543.77,324.21 543.42,324.22 543.07,324.23 542.73,324.24 542.38,324.25 542.03,324.26 541.68,324.27 541.33,324.28 540.98,324.29 540.63,324.30 540.28,324.31 539.93,324.32 539.57,324.33 539.22,324.35 538.87,324.36 538.52,324.37 538.17,324.38 537.81,324.40 537.46,324.41 537.11,324.43 536.75,324.44 536.40,324.46 536.04,324.47 535.69,324.49 535.34,324.51 534.98,324.52 534.62,324.54 534.27,324.56 533.91,324.57 533.56,324.59 533.20,324.61 532.84,324.63 532.49,324.65 532.13,324.67 531.77,324.69 531.41,324.71 531.05,324.73 530.69,324.75 530.33,324.77 529.98,324.79 529.62,324.82 529.26,324.84 528.89,324.86 528.53,324.88 528.17,324.91 527.81,324.93 527.45,324.96 527.09,324.98 526.73,325.01 526.36,325.03 526.00,325.06 525.64,325.08 525.27,325.11 524.91,325.14 524.55,325.16 524.18,325.19 523.82,325.22 523.45,325.25 523.09,325.28 522.72,325.31 522.35,325.34 521.99,325.37 521.62,325.40 521.25,325.43 520.89,325.46 520.52,325.49 520.15,325.52 519.78,325.56 519.41,325.59 519.04,325.62 518.67,325.66 518.30,325.69 517.93,325.72 517.56,325.76 517.19,325.79 516.82,325.83 516.45,325.87 516.08,325.90 515.71,325.94 515.33,325.98 514.96,326.02 514.59,326.05 514.21,326.09 513.84,326.13 513.47,326.17 513.09,326.21 512.72,326.25 512.34,326.29 511.97,326.33 511.59,326.37 511.21,326.42 510.84,326.46 510.46,326.50 510.08,326.54 509.71,326.59 509.33,326.63 508.95,326.68 508.57,326.72 508.19,326.77 507.81,326.81 507.43,326.86 507.05,326.91 506.67,326.95 506.29,327.00 505.91,327.05 505.53,327.10" class="mdot2"/>
<circle cx="573.8" cy="374.8" r="5.3" fill="#ffff00" stroke="#222" stroke-width="1.2"/>
<polyline points="513.96,425.51 515.81,426.02 517.68,426.52 519.57,427.00 521.48,427.47 523.40,427.92 525.34,428.35 527.30,428.77 529.27,429.17 531.25,429.55 533.25,429.92 535.26,430.27 537.28,430.60 539.32,430.91 541.37,431.21 543.42,431.49 545.49,431.75 547.57,432.00 549.65,432.23 551.74,432.43 553.84,432.62 555.95,432.80 558.06,432.95 560.17,433.09 562.30,433.21 564.42,433.31 566.55,433.39 568.68,433.45 570.81,433.50 572.94,433.52 575.07,433.53 577.21,433.52 579.34,433.50 581.47,433.45 583.59,433.38 585.72,433.30 587.84,433.20 589.95,433.08 592.06,432.94 594.17,432.79 596.26,432.61 598.35,432.42 600.44,432.21 602.51,431.98 604.57,431.74 606.63,431.47 608.67,431.19 610.70,430.89 612.72,430.58 614.73,430.25 616.73,429.89 618.71,429.53 620.67,429.14 622.62,428.74 624.56,428.32 626.48,427.89 628.38,427.44 630.26,426.97 632.13,426.49 633.98,425.99 635.80,425.47 637.61,424.94 639.40,424.39 641.17,423.83 642.91,423.26 644.63,422.66 646.33,422.06 648.01,421.44 649.66,420.80 651.29,420.16 652.89,419.49 654.47,418.82 656.02,418.13 657.55,417.42 659.05,416.71 660.52,415.98 661.97,415.24 663.38,414.49 664.77,413.72 666.13,412.95 667.46,412.16 668.76,411.36 670.03,410.55 671.27,409.73 672.48,408.90 673.66,408.06 674.80,407.21 675.92,406.35 677.00,405.48 678.05,404.60 679.07,403.71 680.05,402.82 681.00,401.91 681.92,401.00 682.80,400.08 683.65,399.16 684.47,398.22 685.25,397.28 685.99,396.34 686.70,395.38 687.38,394.43 688.02,393.46 688.62,392.49 689.19,391.52 689.72,390.54 690.22,389.56 690.68,388.58 691.11,387.59 691.49,386.59 691.85,385.60 692.16,384.60 692.44,383.60 692.69,382.60 692.89,381.59 693.06,380.59 693.19,379.58 693.29,378.57 693.35,377.56 693.38,376.55 693.36,375.55 693.31,374.54 693.23,373.53 693.11,372.52 692.95,371.52 692.75,370.52 692.52,369.51 692.26,368.52 691.96,367.52 691.62,366.53 691.24,365.54 690.84,364.55 690.39,363.57 689.91,362.59 689.40,361.61 688.85,360.64 688.27,359.68 687.65,358.72 687.00,357.76 686.31,356.81 685.59,355.87 684.84,354.93 684.05,354.00 683.24,353.08 682.39,352.16 681.50,351.26 680.59,350.35 679.64,349.46 678.66,348.58 677.65,347.70 676.61,346.83 675.54,345.97 674.44,345.12 673.31,344.28 672.15,343.45 670.96,342.63 669.75,341.82 668.50,341.02 667.23,340.23 665.93,339.45 664.60,338.68 663.25,337.92 661.87,337.18 660.46,336.44 659.03,335.72 657.58,335.01 656.10,334.31 654.59,333.63 653.06,332.96 651.51,332.30 649.94,331.65 648.34,331.02 646.73,330.39 645.09,329.79 643.43,329.19 641.75,328.62 640.05,328.05 638.33,327.50 636.59,326.96 634.84,326.44 633.07,325.93 631.28,325.44 629.47,324.96 627.65,324.50 625.81,324.05 623.96,323.61 622.09,323.20 620.21,322.80 618.31,322.41 616.41,322.04 614.49,321.68 612.55,321.34 610.61,321.02 608.66,320.71 606.69,320.42 604.72,320.15 602.74,319.89 600.75,319.65 598.75,319.42 596.75,319.21 594.74,319.02 592.72,318.84 590.70,318.69 588.67,318.54 586.64,318.42 584.60,318.31 582.56,318.22 580.52,318.14 578.48,318.08 576.43,318.04 574.39,318.01 572.34,318.01 570.30,318.02 568.25,318.04 566.21,318.08 564.17,318.14 562.13,318.22 560.10,318.31 558.06,318.42 556.04,318.55 554.02,318.69 552.00,318.85 549.99,319.03 547.99,319.22 546.00,319.43 544.01,319.66 542.03,319.90 540.06,320.16 538.10,320.44 536.15,320.73 534.21,321.04 532.28,321.36 530.37,321.70 528.46,322.06 526.57,322.43 524.70,322.81 522.83,323.22 520.99,323.64 519.15,324.07 517.34,324.52 515.54,324.98 513.75,325.46 511.99,325.96 510.24,326.46 508.51,326.99 506.79,327.53 505.10,328.08 503.43,328.64 501.78,329.22 500.15,329.82 498.54,330.43 496.95,331.05 495.38,331.68 493.84,332.33 492.32,332.99 490.82,333.66 489.35,334.35 487.90,335.05 486.48,335.76 485.08,336.48 483.71,337.22 482.36,337.96 481.05,338.72 479.75,339.49 478.49,340.27 477.26,341.06 476.05,341.86 474.87,342.67 473.72,343.49 472.60,344.33 471.51,345.17 470.45,346.02 469.42,346.88 468.42,347.75 467.45,348.62 466.51,349.51 465.61,350.40 464.74,351.30 463.90,352.21 463.09,353.13 462.31,354.05 461.57,354.98 460.86,355.92 460.19,356.86 459.55,357.81 458.94,358.77 458.37,359.73 457.83,360.69 457.33,361.67 456.86,362.64 456.43,363.62 456.03,364.60 455.67,365.59 455.34,366.58 455.05,367.58 454.80,368.57 454.58,369.57 454.39,370.57 454.25,371.58 454.14,372.58 454.06,373.59 454.02,374.59 454.02,375.60 454.06,376.61 454.13,377.62 454.24,378.63 454.38,379.64 454.56,380.64 454.78,381.65 455.03,382.65 455.32,383.66 455.65,384.66 456.02,385.66 456.41,386.65 456.85,387.64 457.32,388.63 457.83,389.62 458.37,390.60 458.95,391.58 459.57,392.55 460.22,393.52 460.90,394.48 461.62,395.44 462.38,396.39 463.17,397.34 464.00,398.28 464.85,399.21 465.75,400.14 466.67,401.06 467.63,401.97 468.63,402.87 469.65,403.77 470.71,404.65 471.81,405.53 472.93,406.40 474.09,407.26 475.27,408.11 476.49,408.95 477.74,409.78 479.02,410.60 480.33,411.41 481.67,412.21 483.03,413.00 484.43,413.77 485.85,414.54 487.31,415.29 488.79,416.03 490.29,416.75 491.83,417.47 493.39,418.17 494.97,418.86 496.58,419.54 498.22,420.20 499.88,420.84 501.56,421.48 503.27,422.10 505.00,422.70 506.75,423.29 508.52,423.87 510.31,424.43 512.13,424.98 513.96,425.51" class="d"/>
<polyline points="452.00,478.36 455.75,479.42 459.54,480.46 463.37,481.46 467.24,482.43 471.15,483.37 475.09,484.27 479.06,485.14 483.07,485.97 487.10,486.77 491.17,487.53 495.26,488.26 499.38,488.95 503.53,489.61 507.70,490.23 511.90,490.81 516.11,491.36 520.35,491.86 524.60,492.34 528.87,492.77 533.15,493.17 537.45,493.53 541.76,493.85 546.09,494.14 550.42,494.39 554.76,494.59 559.11,494.77 563.46,494.90 567.82,494.99 572.17,495.05 576.53,495.07 580.89,495.05 585.24,494.99 589.59,494.89 593.94,494.75 598.28,494.58 602.61,494.37 606.93,494.12 611.24,493.83 615.53,493.51 619.82,493.14 624.08,492.74 628.33,492.30 632.56,491.83 636.77,491.32 640.96,490.77 645.12,490.18 649.26,489.56 653.38,488.90 657.47,488.21 661.52,487.47 665.55,486.71 669.55,485.91 673.52,485.07 677.45,484.20 681.34,483.30 685.20,482.36 689.02,481.39 692.81,480.38 696.55,479.35 700.25,478.28 703.91,477.18 707.52,476.04 711.09,474.88 714.61,473.68 718.09,472.46 721.51,471.20 724.89,469.92 728.21,468.61 731.49,467.26 734.71,465.90 737.88,464.50 740.99,463.08 744.05,461.62 747.05,460.15 749.99,458.65 752.87,457.12 755.70,455.57 758.47,454.00 761.17,452.40 763.81,450.78 766.39,449.14 768.91,447.48 771.36,445.79 773.75,444.09 776.07,442.37 778.33,440.62 780.52,438.86 782.64,437.08 784.70,435.29 786.68,433.47 788.60,431.64 790.45,429.80 792.23,427.94 793.94,426.07 795.58,424.18 797.15,422.28 798.64,420.37 800.07,418.45 801.42,416.52 802.70,414.57 803.91,412.62 805.04,410.65 806.11,408.68 807.10,406.70 808.01,404.72 808.85,402.73 809.62,400.73 810.32,398.72 810.94,396.72 811.49,394.70 811.96,392.69 812.36,390.67 812.69,388.65 812.95,386.63 813.13,384.61 813.23,382.59 813.27,380.56 813.23,378.54 813.11,376.53 812.93,374.51 812.67,372.50 812.34,370.49 811.94,368.48 811.46,366.48 810.92,364.48 810.30,362.49 809.61,360.51 808.86,358.53 808.03,356.57 807.13,354.61 806.16,352.65 805.13,350.71 804.02,348.78 802.85,346.86 801.61,344.95 800.30,343.05 798.93,341.16 797.49,339.29 795.99,337.43 794.42,335.58 792.79,333.75 791.09,331.93 789.33,330.12 787.51,328.34 785.63,326.56 783.68,324.81 781.68,323.07 779.62,321.35 777.49,319.65 775.31,317.97 773.07,316.30 770.78,314.66 768.43,313.03 766.02,311.43 763.56,309.84 761.05,308.28 758.48,306.74 755.86,305.22 753.19,303.72 750.47,302.24 747.70,300.79 744.88,299.36 742.01,297.96 739.10,296.58 736.14,295.22 733.14,293.89 730.09,292.58 727.00,291.30 723.86,290.05 720.69,288.82 717.47,287.61 714.22,286.44 710.92,285.29 707.59,284.17 704.22,283.07 700.82,282.01 697.38,280.97 693.91,279.96 690.40,278.98 686.86,278.02 683.29,277.10 679.70,276.21 676.07,275.34 672.41,274.51 668.73,273.70 665.03,272.93 661.29,272.18 657.54,271.47 653.76,270.78 649.96,270.13 646.14,269.51 642.30,268.92 638.44,268.36 634.57,267.83 630.67,267.33 626.77,266.87 622.85,266.43 618.91,266.03 614.96,265.66 611.01,265.32 607.04,265.02 603.06,264.74 599.08,264.50 595.09,264.29 591.09,264.11 587.09,263.97 583.08,263.85 579.07,263.77 575.07,263.73 571.06,263.71 567.05,263.73 563.04,263.78 559.04,263.86 555.04,263.97 551.04,264.12 547.05,264.30 543.07,264.51 539.10,264.75 535.13,265.03 531.18,265.33 527.24,265.67 523.31,266.05 519.39,266.45 515.49,266.88 511.60,267.35 507.73,267.85 503.88,268.38 500.05,268.94 496.24,269.53 492.45,270.16 488.68,270.81 484.93,271.50 481.21,272.21 477.51,272.96 473.84,273.73 470.19,274.54 466.58,275.38 462.99,276.24 459.43,277.14 455.91,278.06 452.41,279.02 448.95,280.00 445.53,281.01 442.14,282.05 438.78,283.12 435.46,284.21 432.18,285.34 428.94,286.49 425.74,287.67 422.58,288.87 419.46,290.10 416.39,291.36 413.35,292.64 410.37,293.95 407.42,295.28 404.53,296.64 401.68,298.02 398.88,299.43 396.12,300.86 393.42,302.31 390.77,303.79 388.17,305.29 385.62,306.81 383.12,308.35 380.68,309.91 378.30,311.50 375.96,313.11 373.69,314.73 371.47,316.38 369.31,318.05 367.21,319.73 365.16,321.44 363.18,323.16 361.26,324.90 359.39,326.65 357.59,328.42 355.86,330.21 354.18,332.02 352.57,333.84 351.02,335.67 349.54,337.52 348.12,339.38 346.77,341.26 345.49,343.15 344.27,345.05 343.12,346.96 342.04,348.88 341.03,350.82 340.08,352.76 339.21,354.71 338.40,356.67 337.67,358.64 337.00,360.62 336.41,362.60 335.88,364.59 335.43,366.59 335.05,368.59 334.75,370.60 334.51,372.61 334.35,374.62 334.26,376.64 334.24,378.66 334.30,380.68 334.43,382.70 334.63,384.73 334.90,386.75 335.25,388.77 335.68,390.79 336.17,392.81 336.74,394.83 337.39,396.84 338.10,398.85 338.90,400.85 339.76,402.85 340.70,404.84 341.71,406.83 342.79,408.81 343.95,410.78 345.18,412.74 346.48,414.69 347.85,416.64 349.30,418.57 350.81,420.49 352.40,422.41 354.06,424.30 355.79,426.19 357.59,428.06 359.46,429.92 361.39,431.77 363.40,433.59 365.47,435.41 367.62,437.20 369.82,438.98 372.10,440.74 374.44,442.48 376.85,444.20 379.32,445.91 381.85,447.59 384.45,449.25 387.11,450.89 389.83,452.51 392.61,454.11 395.45,455.68 398.35,457.23 401.31,458.75 404.32,460.25 407.39,461.73 410.52,463.18 413.70,464.60 416.94,465.99 420.23,467.36 423.56,468.70 426.95,470.01 430.39,471.29 433.88,472.55 437.41,473.77 440.99,474.96 444.62,476.13 448.29,477.26 452.00,478.36" class="d"/>
<polyline points="387.67,533.23 393.37,534.89 399.13,536.51 404.96,538.07 410.85,539.58 416.79,541.04 422.80,542.45 428.86,543.80 434.97,545.10 441.13,546.35 447.33,547.54 453.59,548.68 459.89,549.76 466.22,550.79 472.60,551.76 479.02,552.67 485.47,553.52 491.95,554.32 498.46,555.06 505.00,555.74 511.56,556.37 518.15,556.93 524.75,557.44 531.38,557.88 538.02,558.27 544.67,558.60 551.34,558.86 558.01,559.07 564.69,559.22 571.37,559.31 578.05,559.33 584.73,559.30 591.41,559.21 598.08,559.06 604.74,558.84 611.39,558.57 618.03,558.24 624.65,557.85 631.26,557.40 637.84,556.89 644.40,556.32 650.93,555.69 657.43,555.00 663.91,554.26 670.35,553.46 676.76,552.60 683.13,551.68 689.46,550.71 695.74,549.68 701.99,548.59 708.19,547.45 714.33,546.25 720.43,545.00 726.48,543.69 732.47,542.34 738.40,540.92 744.28,539.46 750.09,537.95 755.84,536.38 761.53,534.76 767.15,533.09 772.70,531.38 778.18,529.61 783.58,527.80 788.92,525.94 794.17,524.04 799.35,522.09 804.45,520.09 809.47,518.05 814.41,515.97 819.26,513.85 824.03,511.68 828.71,509.48 833.30,507.23 837.80,504.95 842.21,502.62 846.52,500.27 850.74,497.87 854.87,495.44 858.90,492.97 862.84,490.48 866.67,487.95 870.41,485.38 874.04,482.79 877.58,480.17 881.01,477.52 884.34,474.84 887.56,472.13 890.68,469.40 893.69,466.65 896.60,463.87 899.40,461.07 902.09,458.25 904.67,455.40 907.15,452.54 909.51,449.66 911.77,446.76 913.91,443.84 915.95,440.91 917.87,437.97 919.68,435.01 921.39,432.03 922.98,429.05 924.45,426.06 925.82,423.05 927.07,420.04 928.22,417.02 929.25,413.99 930.17,410.96 930.97,407.92 931.67,404.88 932.25,401.84 932.72,398.79 933.08,395.75 933.33,392.70 933.47,389.66 933.50,386.61 933.42,383.57 933.23,380.54 932.93,377.51 932.52,374.48 932.00,371.46 931.38,368.45 930.65,365.45 929.81,362.45 928.86,359.47 927.81,356.50 926.66,353.54 925.40,350.59 924.04,347.65 922.57,344.73 921.00,341.83 919.34,338.94 917.57,336.07 915.70,333.21 913.73,330.38 911.67,327.56 909.51,324.76 907.25,321.99 904.90,319.23 902.45,316.50 899.92,313.79 897.28,311.10 894.56,308.44 891.75,305.80 888.85,303.19 885.86,300.60 882.79,298.04 879.62,295.51 876.38,293.01 873.05,290.53 869.64,288.08 866.15,285.67 862.57,283.28 858.92,280.93 855.19,278.61 851.39,276.31 847.51,274.06 843.56,271.83 839.53,269.64 835.43,267.48 831.27,265.36 827.03,263.28 822.73,261.23 818.36,259.21 813.92,257.23 809.42,255.29 804.86,253.39 800.24,251.52 795.56,249.70 790.82,247.91 786.03,246.16 781.18,244.45 776.27,242.78 771.31,241.15 766.30,239.56 761.25,238.01 756.14,236.51 750.98,235.04 745.78,233.62 740.54,232.24 735.25,230.90 729.92,229.61 724.56,228.35 719.15,227.14 713.71,225.98 708.23,224.86 702.71,223.78 697.17,222.75 691.59,221.76 685.98,220.81 680.35,219.92 674.68,219.06 669.00,218.25 663.28,217.49 657.55,216.77 651.79,216.10 646.02,215.47 640.22,214.89 634.41,214.36 628.59,213.87 622.75,213.43 616.90,213.03 611.03,212.68 605.16,212.38 599.28,212.12 593.40,211.91 587.51,211.75 581.61,211.64 575.72,211.57 569.82,211.54 563.93,211.57 558.03,211.64 552.14,211.76 546.26,211.92 540.38,212.13 534.52,212.39 528.66,212.69 522.81,213.04 516.98,213.44 511.16,213.88 505.36,214.37 499.57,214.91 493.80,215.49 488.06,216.12 482.33,216.79 476.63,217.51 470.95,218.28 465.30,219.09 459.67,219.94 454.08,220.84 448.52,221.79 442.98,222.78 437.48,223.82 432.02,224.89 426.59,226.02 421.20,227.18 415.85,228.39 410.54,229.65 405.27,230.95 400.04,232.29 394.86,233.67 389.72,235.09 384.64,236.56 379.60,238.07 374.61,239.62 369.67,241.21 364.79,242.84 359.96,244.51 355.19,246.22 350.47,247.97 345.82,249.76 341.22,251.59 336.68,253.46 332.21,255.36 327.80,257.31 323.46,259.29 319.18,261.30 314.97,263.36 310.83,265.45 306.76,267.57 302.76,269.73 298.83,271.92 294.98,274.15 291.21,276.41 287.51,278.70 283.88,281.03 280.34,283.38 276.88,285.77 273.50,288.19 270.20,290.64 266.99,293.12 263.86,295.62 260.81,298.16 257.85,300.72 254.99,303.31 252.21,305.92 249.52,308.56 246.92,311.23 244.41,313.92 242.00,316.63 239.68,319.36 237.46,322.12 235.33,324.90 233.30,327.70 231.37,330.52 229.53,333.36 227.80,336.21 226.16,339.09 224.63,341.98 223.20,344.89 221.87,347.81 220.65,350.75 219.53,353.70 218.51,356.66 217.60,359.63 216.80,362.62 216.10,365.61 215.51,368.62 215.02,371.63 214.65,374.65 214.38,377.68 214.23,380.71 214.18,383.75 214.24,386.79 214.42,389.84 214.70,392.88 215.09,395.93 215.60,398.98 216.22,402.02 216.94,405.07 217.78,408.11 218.74,411.15 219.80,414.18 220.97,417.21 222.26,420.23 223.66,423.24 225.17,426.25 226.79,429.24 228.52,432.23 230.37,435.20 232.32,438.16 234.39,441.11 236.56,444.04 238.85,446.96 241.24,449.86 243.75,452.74 246.36,455.60 249.08,458.44 251.91,461.27 254.84,464.07 257.88,466.84 261.03,469.60 264.28,472.33 267.63,475.03 271.09,477.71 274.65,480.36 278.31,482.98 282.07,485.57 285.93,488.13 289.89,490.66 293.95,493.16 298.10,495.62 302.34,498.05 306.68,500.44 311.12,502.80 315.64,505.12 320.25,507.40 324.95,509.65 329.74,511.85 334.61,514.01 339.57,516.14 344.60,518.22 349.72,520.25 354.92,522.24 360.19,524.19 365.55,526.09 370.97,527.95 376.47,529.76 382.03,531.52 387.67,533.23" class="d"/>
<polyline points="320.82,590.24 328.52,592.55 336.32,594.79 344.20,596.95 352.17,599.05 360.22,601.08 368.35,603.03 376.56,604.91 384.85,606.72 393.21,608.45 401.63,610.11 410.13,611.69 418.68,613.20 427.30,614.62 435.97,615.97 444.70,617.24 453.47,618.43 462.29,619.54 471.16,620.57 480.06,621.52 489.00,622.39 497.97,623.18 506.98,623.88 516.01,624.50 525.06,625.04 534.13,625.50 543.21,625.87 552.31,626.16 561.42,626.36 570.53,626.49 579.64,626.52 588.75,626.48 597.86,626.35 606.95,626.14 616.04,625.84 625.10,625.46 634.15,625.00 643.18,624.45 652.17,623.82 661.14,623.11 670.07,622.32 678.97,621.44 687.83,620.48 696.64,619.45 705.41,618.33 714.12,617.13 722.78,615.85 731.39,614.50 739.93,613.06 748.41,611.55 756.82,609.96 765.17,608.30 773.44,606.56 781.64,604.75 789.75,602.86 797.79,600.90 805.74,598.87 813.60,596.76 821.38,594.59 829.06,592.35 836.64,590.04 844.13,587.66 851.51,585.22 858.80,582.71 865.97,580.14 873.04,577.50 880.00,574.81 886.85,572.05 893.58,569.24 900.19,566.36 906.68,563.43 913.06,560.45 919.31,557.41 925.43,554.31 931.43,551.17 937.30,547.97 943.03,544.73 948.64,541.44 954.11,538.10 959.45,534.72 964.65,531.29 969.72,527.82 974.64,524.31 979.42,520.76 984.06,517.17 988.56,513.55 992.92,509.89 997.13,506.19 1001.19,502.47 1005.11,498.71 1008.88,494.92 1012.51,491.11 1015.98,487.27 1019.31,483.40 1022.48,479.51 1025.51,475.59 1028.38,471.66 1031.10,467.71 1033.68,463.73 1036.10,459.74 1038.36,455.74 1040.48,451.72 1042.45,447.68 1044.26,443.64 1045.92,439.59 1047.43,435.53 1048.79,431.46 1049.99,427.38 1051.05,423.30 1051.95,419.22 1052.71,415.13 1053.31,411.04 1053.77,406.96 1054.07,402.88 1054.23,398.80 1054.24,394.72 1054.10,390.65 1053.82,386.59 1053.39,382.53 1052.81,378.49 1052.09,374.45 1051.23,370.43 1050.22,366.42 1049.08,362.42 1047.79,358.44 1046.36,354.48 1044.80,350.53 1043.09,346.60 1041.26,342.69 1039.28,338.80 1037.17,334.94 1034.93,331.09 1032.56,327.27 1030.05,323.48 1027.42,319.71 1024.66,315.96 1021.77,312.25 1018.75,308.56 1015.62,304.91 1012.36,301.28 1008.97,297.68 1005.47,294.12 1001.85,290.59 998.12,287.10 994.27,283.64 990.30,280.21 986.22,276.82 982.03,273.47 977.74,270.16 973.33,266.88 968.82,263.65 964.20,260.45 959.48,257.30 954.66,254.18 949.74,251.11 944.73,248.09 939.61,245.10 934.40,242.16 929.10,239.27 923.71,236.42 918.23,233.61 912.65,230.86 907.00,228.15 901.26,225.49 895.43,222.87 889.53,220.31 883.54,217.79 877.48,215.33 871.34,212.91 865.13,210.54 858.84,208.23 852.49,205.97 846.06,203.76 839.57,201.60 833.02,199.50 826.40,197.44 819.71,195.45 812.97,193.50 806.17,191.61 799.32,189.78 792.41,188.00 785.44,186.27 778.43,184.61 771.37,182.99 764.25,181.44 757.10,179.94 749.90,178.49 742.65,177.11 735.37,175.78 728.05,174.51 720.69,173.29 713.30,172.14 705.88,171.04 698.42,170.00 690.93,169.02 683.42,168.10 675.88,167.23 668.32,166.43 660.73,165.68 653.12,165.00 645.50,164.37 637.86,163.80 630.20,163.30 622.53,162.85 614.85,162.46 607.16,162.13 599.47,161.86 591.76,161.65 584.05,161.50 576.34,161.41 568.63,161.38 560.92,161.41 553.22,161.51 545.52,161.66 537.82,161.87 530.14,162.14 522.46,162.47 514.80,162.86 507.15,163.31 499.52,163.81 491.90,164.38 484.30,165.01 476.73,165.70 469.18,166.45 461.65,167.25 454.15,168.12 446.68,169.04 439.23,170.02 431.82,171.06 424.45,172.16 417.11,173.32 409.80,174.54 402.54,175.81 395.31,177.14 388.13,178.53 381.00,179.97 373.91,181.47 366.87,183.03 359.88,184.65 352.94,186.32 346.05,188.05 339.22,189.83 332.44,191.66 325.73,193.56 319.08,195.50 312.48,197.50 305.96,199.56 299.49,201.66 293.10,203.82 286.77,206.04 280.52,208.30 274.34,210.62 268.24,212.98 262.21,215.40 256.26,217.87 250.38,220.39 244.59,222.96 238.89,225.57 233.27,228.24 227.73,230.95 222.29,233.71 216.93,236.52 211.67,239.37 206.50,242.27 201.42,245.21 196.44,248.20 191.56,251.23 186.78,254.30 182.11,257.42 177.53,260.57 173.06,263.77 168.70,267.01 164.44,270.29 160.30,273.61 156.26,276.96 152.34,280.35 148.53,283.78 144.84,287.25 141.26,290.75 137.81,294.28 134.47,297.85 131.25,301.44 128.16,305.07 125.19,308.73 122.35,312.42 119.63,316.14 117.05,319.89 114.59,323.66 112.26,327.46 110.06,331.28 108.00,335.13 106.07,339.00 104.28,342.89 102.62,346.81 101.10,350.74 99.72,354.69 98.48,358.66 97.38,362.64 96.42,366.64 95.61,370.65 94.93,374.68 94.40,378.72 94.02,382.77 93.78,386.83 93.69,390.89 93.74,394.96 93.95,399.04 94.30,403.13 94.80,407.21 95.44,411.30 96.24,415.39 97.19,419.48 98.29,423.56 99.54,427.64 100.94,431.72 102.50,435.79 104.20,439.86 106.06,443.91 108.06,447.96 110.22,451.99 112.53,456.01 114.99,460.02 117.60,464.01 120.37,467.99 123.28,471.94 126.35,475.88 129.56,479.79 132.92,483.68 136.44,487.55 140.10,491.39 143.91,495.21 147.86,498.99 151.96,502.75 156.21,506.48 160.60,510.17 165.13,513.83 169.81,517.45 174.63,521.04 179.58,524.59 184.68,528.10 189.91,531.56 195.28,534.99 200.79,538.37 206.42,541.71 212.19,544.99 218.09,548.24 224.11,551.43 230.27,554.57 236.54,557.66 242.94,560.70 249.46,563.68 256.10,566.61 262.86,569.48 269.73,572.29 276.71,575.04 283.80,577.73 291.00,580.36 298.31,582.93 305.71,585.43 313.22,587.87 320.82,590.24" class="d"/>
<line x1="573.68" y1="374.57" x2="320.82" y2="590.24" class="d"/>
<line x1="573.68" y1="374.57" x2="579.64" y2="626.52" class="d"/>
<line x1="573.68" y1="374.57" x2="836.64" y2="590.04" class="d"/>
<line x1="573.68" y1="374.57" x2="1008.88" y2="494.92" class="d"/>
<line x1="573.68" y1="374.57" x2="1052.09" y2="374.45" class="d"/>
<line x1="573.68" y1="374.57" x2="968.82" y2="263.65" class="d"/>
<line x1="573.68" y1="374.57" x2="792.41" y2="188.00" class="d"/>
<line x1="573.68" y1="374.57" x2="568.63" y2="161.38" class="d"/>
<line x1="573.68" y1="374.57" x2="346.05" y2="188.05" class="d"/>
<line x1="573.68" y1="374.57" x2="173.06" y2="263.77" class="d"/>
<line x1="573.68" y1="374.57" x2="94.93" y2="374.68" class="d"/>
<line x1="573.68" y1="374.57" x2="143.91" y2="495.21" class="d"/>
<circle cx="611.9" cy="414.0" r="3.0" fill="#d4861c" stroke="#3a2a10" stroke-width="0.9"/>
<circle cx="506.2" cy="327.1" r="3.0" fill="#1f77b4" stroke="#102040" stroke-width="0.9"/>
<circle cx="476.0" cy="304.1" r="3.3" fill="#c8440e" stroke="#3a1505" stroke-width="0.9"/>
<circle cx="919.3" cy="133.6" r="3.1" fill="#a0522d" stroke="#301508" stroke-width="0.9"/>
<g fill="#9400d3" stroke="#7a00b0" stroke-width="0.5"><path d="M473.4,566.3 L479.9,573 L473.4,579.7 L466.9,573 Z"/>
<path d="M468.5,569.1 L469.1,570.8 L470.9,568.9 Z M478.3,569.1 L477.7,570.8 L475.9,568.9 Z M468.5,578.6 L469.9,576.1 L471.5,577.7 Z M478.3,578.6 L476.9,576.1 L475.3,577.7 Z"/></g>
</g>
<line x1="101.40" y1="693.49" x2="93.15" y2="700.34" class="tk"/>
<line x1="97.62" y1="613.97" x2="89.28" y2="620.71" class="tk"/>
<line x1="93.76" y1="532.98" x2="85.34" y2="539.59" class="tk"/>
<line x1="89.83" y1="450.47" x2="81.32" y2="456.96" class="tk"/>
<line x1="85.82" y1="366.40" x2="77.22" y2="372.75" class="tk"/>
<line x1="858.73" y1="642.67" x2="871.50" y2="646.43" class="tk"/>
<line x1="803.86" y1="698.96" x2="816.79" y2="702.87" class="tk"/>
<line x1="746.91" y1="757.39" x2="760.01" y2="761.44" class="tk"/>
<line x1="687.76" y1="818.07" x2="701.04" y2="822.28" class="tk"/>
<line x1="626.29" y1="881.13" x2="639.75" y2="885.51" class="tk"/>
<line x1="208.32" y1="758.02" x2="200.25" y2="765.07" class="tk"/>
<line x1="314.62" y1="792.72" x2="306.70" y2="799.92" class="tk"/>
<line x1="423.26" y1="828.18" x2="415.50" y2="835.54" class="tk"/>
<line x1="534.33" y1="864.43" x2="526.74" y2="871.96" class="tk"/>
<g class="tl">
<text x="53.9" y="378.2">2</text><text x="58.3" y="462.2">1</text><text x="62.5" y="544.8">0</text><text x="66.6" y="625.8">−1</text><text x="70.8" y="705.4">−2</text>
<text x="879.8" y="666.6">0</text><text x="825.5" y="723.9">1</text><text x="769.1" y="782.4">2</text><text x="710.4" y="842.6">3</text><text x="649.6" y="906.6">4</text>
<text x="195.2" y="788.3">−1</text><text x="301.4" y="823.3">0</text><text x="410" y="859.1">1</text><text x="521.4" y="895.7">2</text>
</g>
<g class="pl">
<text x="471.6" y="300.4">Mars</text><text x="503.5" y="324">Maa</text><text x="613.8" y="416">Venus</text><text x="935" y="122.7">Jupiter</text>
</g>
<text x="492" y="95.8" text-anchor="middle" style="font-size:22.2px;font-style:italic;fill:#2a2a2a">Meteoroidin heliosentrinen kiertorata</text>
<g>
<circle cx="56.3" cy="794.4" r="3.35" fill="#d4861c" stroke="#3a2a10" stroke-width="0.9"/>
<circle cx="56.3" cy="814.3" r="3.35" fill="#1f77b4" stroke="#102040" stroke-width="0.9"/>
<circle cx="56.3" cy="834.3" r="3.35" fill="#c8440e" stroke="#3a1505" stroke-width="0.9"/>
<circle cx="56.3" cy="854.3" r="3.35" fill="#a0522d" stroke="#301508" stroke-width="0.9"/>
<circle cx="56.3" cy="874.0" r="5.4" fill="#ffff00" stroke="#222" stroke-width="1"/>
<path d="M56.3,888.5 L61.8,894 L56.3,899.5 L50.8,894 Z" fill="#9400d3"/>
<line x1="41.5" y1="913.8" x2="71" y2="913.8" stroke="#146814" stroke-width="2.1" stroke-linecap="round"/>
<line x1="41.5" y1="933.6" x2="71" y2="933.6" stroke="#c21a1e" stroke-width="2.1" stroke-linecap="round"/>
</g>
<g class="lg">
<text x="81.5" y="794.4">Venus</text><text x="81.5" y="814.3">Maa</text><text x="81.5" y="834.3">Mars</text><text x="81.5" y="854.3">Jupiter</text><text x="81.5" y="874.0">Aurinko</text><text x="81.5" y="894.0">Apheli</text>
<text x="81.5" y="913.8">Meteoroidin rata (ekliptikan yläpuolella)</text><text x="81.5" y="933.6">Meteoroidin rata (ekliptikan alapuolella)</text>
</g>
</svg>
</body></html>
